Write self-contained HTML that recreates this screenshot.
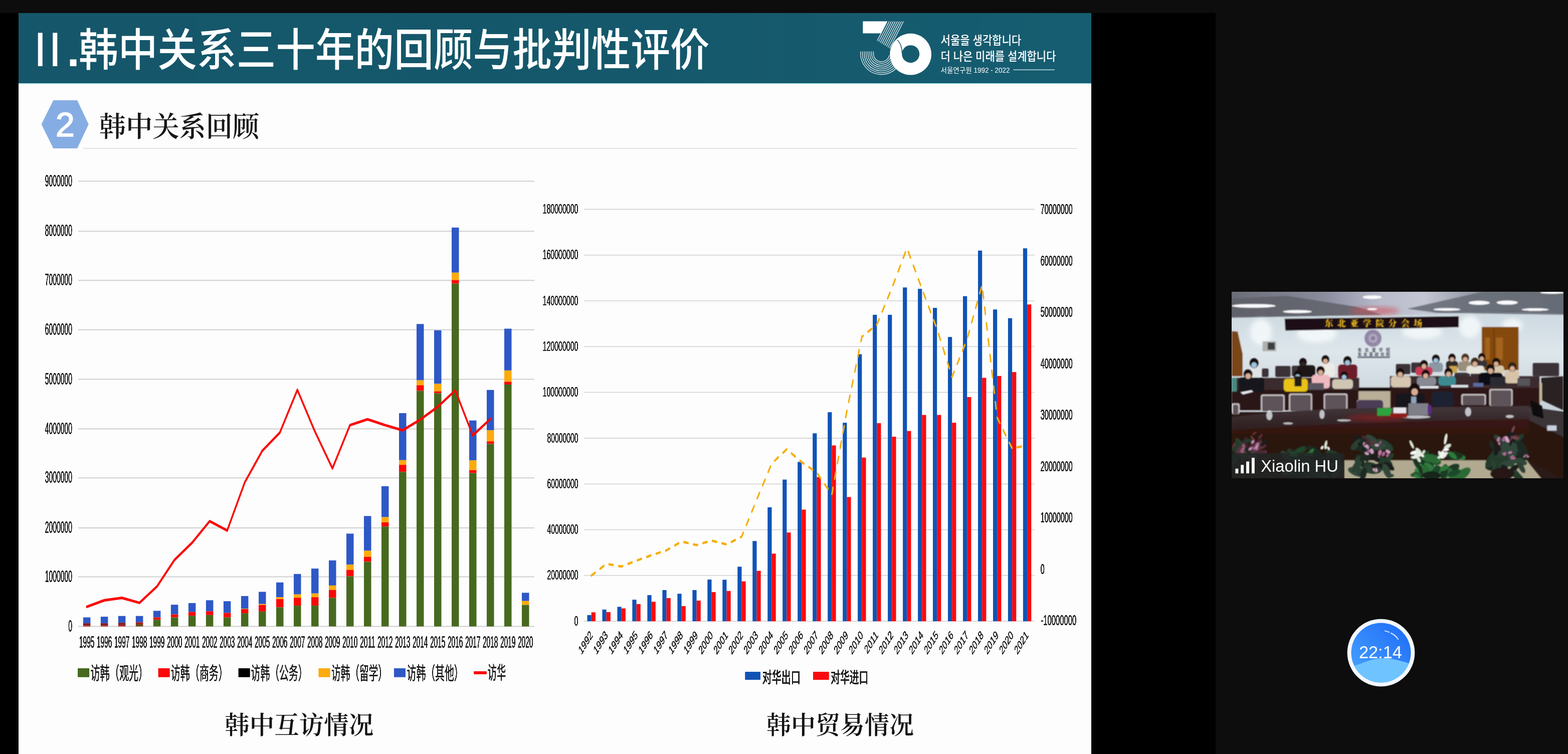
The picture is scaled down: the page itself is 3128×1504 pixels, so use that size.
<!DOCTYPE html>
<html lang="zh-CN">
<head>
<meta charset="utf-8">
<title>韩中关系三十年的回顾与批判性评价</title>
<style>
html,body{margin:0;padding:0;}
body{width:3128px;height:1504px;overflow:hidden;background:#0d0d0d;position:relative;font-family:"Liberation Sans","Noto Sans CJK SC",sans-serif;}
#topbar{position:absolute;left:0;top:0;width:3128px;height:26px;background:#0d0d0d;}
#stage{position:absolute;left:0;top:26px;width:2425px;height:1478px;background:#000;}
#slide{position:absolute;left:36.5px;top:0;width:2140px;height:1478px;background:#fdfdfd;overflow:hidden;}
#slide-header{position:absolute;left:0;top:0;width:2140px;height:140px;background:linear-gradient(90deg,#15566a 0%,#15586b 60%,#165d71 100%);border-bottom:1px solid #8fe3ee;box-sizing:content-box;}
#slide-header h1{position:absolute;left:0;top:0;margin:0;width:1500px;height:140px;white-space:nowrap;font-weight:500;color:#fff;}
#slide-header h1 span{position:absolute;top:0;line-height:140px;transform-origin:0 50%;}
#slide-header h1 .rn{left:30.6px;top:3px;font-family:"Liberation Sans",sans-serif;font-weight:400;font-size:95.7px;letter-spacing:2.9px;}
#slide-header h1 .dot{left:97px;top:4.5px;font-family:"Liberation Sans",sans-serif;font-weight:700;font-size:91px;}
#slide-header h1 .cj{left:120px;top:-3.5px;font-family:"Noto Sans CJK SC",sans-serif;font-weight:500;font-size:88.8px;transform:scaleX(0.8858);}
#logo{position:absolute;left:1663.5px;top:0;}
#sec{position:absolute;left:0;top:166px;width:2140px;height:140px;}
#hex{position:absolute;left:46px;top:8px;}
#sec h2{position:absolute;left:161.5px;top:25.6px;margin:0;white-space:nowrap;font-family:"Liberation Serif","Noto Serif CJK SC",serif;font-weight:600;font-size:56px;line-height:70px;color:#161616;transform-origin:0 50%;transform:scaleX(0.95);}
#rule{position:absolute;left:129.5px;top:269px;width:1983px;height:2px;background:#e2e2e2;}
#charts{position:absolute;left:0;top:0;}
#side{position:absolute;left:2425px;top:26px;width:703px;height:1478px;background:#0d0d0d;}
#video{position:absolute;left:2456.5px;top:581.5px;}
#timer{position:absolute;left:2685.4px;top:1231.7px;}
</style>
</head>
<body>
<div id="topbar"></div>
<div id="stage">
  <div id="slide">
    <div id="slide-header">
      <h1><span class="rn">II</span><span class="dot">.</span><span class="cj">韩中关系三十年的回顾与批判性评价</span></h1>
      <svg id="logo" width="460" height="140" viewBox="1700 26 460 140">
<g fill="none" stroke="#eef7f9" stroke-width="1.25">
<path d="M1742.5 102.4 L1742.5 107 A15.9 15.9 0 0 0 1774 110.3"/>
<path d="M1738.8 102.4 L1738.8 107 A19.6 19.6 0 0 0 1777.5 111.1"/>
<path d="M1735.2 102.4 L1735.2 107 A23.2 23.2 0 0 0 1781.1 111.8"/>
<path d="M1731.5 102.4 L1731.5 107 A26.9 26.9 0 0 0 1784.7 112.6"/>
<path d="M1727.8 102.4 L1727.8 107 A30.6 30.6 0 0 0 1788.3 113.4"/>
<path d="M1724.2 102.4 L1724.2 107 A34.2 34.2 0 0 0 1791.9 114.1"/>
<path d="M1720.5 102.4 L1720.5 107 A37.9 37.9 0 0 0 1795.5 114.9"/>
<path d="M1716.8 102.4 L1716.8 107 A41.6 41.6 0 0 0 1799.1 115.6"/>
<path d="M1769.8 42.6 L1749.9 81.4"/>
<path d="M1773.9 42.6 L1753 83.3"/>
<path d="M1777.9 42.6 L1756.1 85.2"/>
<path d="M1782 42.6 L1759.1 87.1"/>
<path d="M1786 42.6 L1762.2 89"/>
<path d="M1790.1 42.6 L1765.3 90.9"/>
<path d="M1794.2 42.6 L1768.4 92.8"/>
<path d="M1798.2 42.6 L1771.5 94.7"/>
<path d="M1802.3 42.6 L1774.6 96.6"/>
</g>
<polygon points="1721.3,42.6 1769.6,42.6 1757.2,66.6 1721.3,66.6" fill="#fff"/>
<path fill="#fff" fill-rule="evenodd" d="M1816.6 66.8 a41.4 41.4 0 1 0 0.01 0 Z M1816.7 90.2 a17.5 17.5 0 1 1 -0.01 0 Z"/>
<path d="M1790 79.5 Q1799.5 89 1799.6 106" fill="none" stroke="#165b6f" stroke-width="1.5"/>
<g fill="#fff" font-weight="500" font-family="'Liberation Sans', 'Noto Sans CJK KR', sans-serif">
<text x="1876.5" y="89" font-size="24" textLength="161" lengthAdjust="spacingAndGlyphs">서울을 생각합니다</text>
<text x="1876.5" y="121" font-size="24" textLength="230" lengthAdjust="spacingAndGlyphs">더 나은 미래를 설계합니다</text>
<text x="1876.5" y="144.6" font-size="14" font-weight="400" textLength="138" lengthAdjust="spacingAndGlyphs">서울연구원 1992 - 2022</text>
</g>
<rect x="2021.5" y="138.6" width="82.5" height="1.3" fill="#d8f3f8"/>
</svg>
    </div>
    <div id="sec">
      <svg id="hex" width="96" height="98" viewBox="82 199 96 98">
        <polygon points="81.6,246.9 105.4,199.1 153.1,199.1 175.8,246.9 153.1,294.9 105.4,294.9" fill="#86ade3"/>
        <text transform="translate(129 271.2) scale(1 1)" x="0" y="0" font-family="'Liberation Sans', sans-serif" font-size="68" fill="#fff" stroke="#fff" stroke-width="1.7" text-anchor="middle">2</text>
      </svg>
      <h2>韩中关系回顾</h2>
    </div>
    <div id="rule"></div>
  </div>
</div>
<div id="side"></div>
<svg id="charts" width="3128" height="1504" viewBox="0 0 3128 1504">
<defs><filter id="fb" x="-2%" y="-20%" width="104%" height="140%" color-interpolation-filters="sRGB"><feGaussianBlur stdDeviation="0.75 0.3"/><feComponentTransfer><feFuncA type="linear" slope="1.9" intercept="0"/></feComponentTransfer></filter></defs>
<g id="chart-visits">
<g stroke="#cfcfcf" stroke-width="2">
<line x1="156" y1="1249.4" x2="1066" y2="1249.4"/>
<line x1="156" y1="1150.5" x2="1066" y2="1150.5"/>
<line x1="156" y1="1053" x2="1066" y2="1053"/>
<line x1="156" y1="953.2" x2="1066" y2="953.2"/>
<line x1="156" y1="855.4" x2="1066" y2="855.4"/>
<line x1="156" y1="756.6" x2="1066" y2="756.6"/>
<line x1="156" y1="657.8" x2="1066" y2="657.8"/>
<line x1="156" y1="559.2" x2="1066" y2="559.2"/>
<line x1="156" y1="461.2" x2="1066" y2="461.2"/>
<line x1="156" y1="361.4" x2="1066" y2="361.4"/>
</g>
<g font-family="'Liberation Sans', sans-serif" font-size="32.8" font-weight="400" fill="#1a1a1a" text-anchor="end" filter="url(#fb)">
<text x="144" y="1259.6" textLength="7.8" lengthAdjust="spacingAndGlyphs">0</text>
<text x="144" y="1160.7" textLength="54.3" lengthAdjust="spacingAndGlyphs">1000000</text>
<text x="144" y="1063.2" textLength="54.3" lengthAdjust="spacingAndGlyphs">2000000</text>
<text x="144" y="963.4" textLength="54.3" lengthAdjust="spacingAndGlyphs">3000000</text>
<text x="144" y="865.6" textLength="54.3" lengthAdjust="spacingAndGlyphs">4000000</text>
<text x="144" y="766.8" textLength="54.3" lengthAdjust="spacingAndGlyphs">5000000</text>
<text x="144" y="668" textLength="54.3" lengthAdjust="spacingAndGlyphs">6000000</text>
<text x="144" y="569.4" textLength="54.3" lengthAdjust="spacingAndGlyphs">7000000</text>
<text x="144" y="471.4" textLength="54.3" lengthAdjust="spacingAndGlyphs">8000000</text>
<text x="144" y="371.6" textLength="54.3" lengthAdjust="spacingAndGlyphs">9000000</text>
</g>
<rect x="165.9" y="1231.5" width="14.5" height="11.7" fill="#2d58c6"/>
<rect x="165.9" y="1243.2" width="14.5" height="4.5" fill="#7d1a22"/>
<rect x="165.9" y="1247.7" width="14.5" height="1.8" fill="#b3241c"/>
<rect x="200.9" y="1230.1" width="14.5" height="13.1" fill="#2d58c6"/>
<rect x="200.9" y="1243.2" width="14.5" height="4.5" fill="#7d1a22"/>
<rect x="200.9" y="1247.7" width="14.5" height="1.8" fill="#b3241c"/>
<rect x="235.9" y="1228.7" width="14.5" height="13.6" fill="#2d58c6"/>
<rect x="235.9" y="1242.3" width="14.5" height="4.5" fill="#7d1a22"/>
<rect x="235.9" y="1246.8" width="14.5" height="2.7" fill="#b3241c"/>
<rect x="270.9" y="1228.7" width="14.5" height="12.6" fill="#2d58c6"/>
<rect x="270.9" y="1241.3" width="14.5" height="3.7" fill="#a8201c"/>
<rect x="270.9" y="1245" width="14.5" height="4.5" fill="#6b4a1c"/>
<rect x="305.9" y="1218.4" width="14.5" height="13.1" fill="#2d58c6"/>
<rect x="305.9" y="1231.5" width="14.5" height="4.7" fill="#fa0808"/>
<rect x="305.9" y="1236.2" width="14.5" height="13.3" fill="#47691f"/>
<rect x="340.9" y="1206.2" width="14.5" height="19.2" fill="#2d58c6"/>
<rect x="340.9" y="1225.4" width="14.5" height="6.1" fill="#fa0808"/>
<rect x="340.9" y="1231.5" width="14.5" height="18" fill="#47691f"/>
<rect x="375.9" y="1202.9" width="14.5" height="17.8" fill="#2d58c6"/>
<rect x="375.9" y="1220.7" width="14.5" height="7.5" fill="#fa0808"/>
<rect x="375.9" y="1228.2" width="14.5" height="21.3" fill="#47691f"/>
<rect x="410.9" y="1197.3" width="14.5" height="22" fill="#2d58c6"/>
<rect x="410.9" y="1219.3" width="14.5" height="7.5" fill="#fa0808"/>
<rect x="410.9" y="1226.8" width="14.5" height="22.7" fill="#47691f"/>
<rect x="445.9" y="1199.2" width="14.5" height="23.4" fill="#2d58c6"/>
<rect x="445.9" y="1222.6" width="14.5" height="8.9" fill="#fa0808"/>
<rect x="445.9" y="1231.5" width="14.5" height="18" fill="#47691f"/>
<rect x="480.9" y="1188.9" width="14.5" height="25.3" fill="#2d58c6"/>
<rect x="480.9" y="1214.2" width="14.5" height="0.9" fill="#fcab0c"/>
<rect x="480.9" y="1215.1" width="14.5" height="8" fill="#fa0808"/>
<rect x="480.9" y="1223.1" width="14.5" height="26.4" fill="#47691f"/>
<rect x="516" y="1180.5" width="14.5" height="24.3" fill="#2d58c6"/>
<rect x="516" y="1204.8" width="14.5" height="1.9" fill="#fcab0c"/>
<rect x="516" y="1206.7" width="14.5" height="13.1" fill="#fa0808"/>
<rect x="516" y="1219.8" width="14.5" height="29.7" fill="#47691f"/>
<rect x="551" y="1161.8" width="14.5" height="29.5" fill="#2d58c6"/>
<rect x="551" y="1191.2" width="14.5" height="3.7" fill="#fcab0c"/>
<rect x="551" y="1195" width="14.5" height="16.4" fill="#fa0808"/>
<rect x="551" y="1211.4" width="14.5" height="38.1" fill="#47691f"/>
<rect x="586" y="1144.9" width="14.5" height="40.7" fill="#2d58c6"/>
<rect x="586" y="1185.6" width="14.5" height="6.6" fill="#fcab0c"/>
<rect x="586" y="1192.2" width="14.5" height="15.9" fill="#fa0808"/>
<rect x="586" y="1208.1" width="14.5" height="41.4" fill="#47691f"/>
<rect x="621" y="1134.1" width="14.5" height="49.6" fill="#2d58c6"/>
<rect x="621" y="1183.8" width="14.5" height="7.5" fill="#fcab0c"/>
<rect x="621" y="1191.2" width="14.5" height="16.9" fill="#fa0808"/>
<rect x="621" y="1208.1" width="14.5" height="41.4" fill="#47691f"/>
<rect x="656" y="1117.8" width="14.5" height="50.1" fill="#2d58c6"/>
<rect x="656" y="1167.8" width="14.5" height="8.9" fill="#fcab0c"/>
<rect x="656" y="1176.7" width="14.5" height="15.9" fill="#fa0808"/>
<rect x="656" y="1192.6" width="14.5" height="56.9" fill="#47691f"/>
<rect x="691" y="1064.4" width="14.5" height="61.8" fill="#2d58c6"/>
<rect x="691" y="1126.2" width="14.5" height="10.8" fill="#fcab0c"/>
<rect x="691" y="1136.9" width="14.5" height="12.6" fill="#fa0808"/>
<rect x="691" y="1149.6" width="14.5" height="99.9" fill="#47691f"/>
<rect x="726" y="1029.3" width="14.5" height="69.3" fill="#2d58c6"/>
<rect x="726" y="1098.6" width="14.5" height="12.2" fill="#fcab0c"/>
<rect x="726" y="1110.7" width="14.5" height="9.8" fill="#fa0808"/>
<rect x="726" y="1120.6" width="14.5" height="128.9" fill="#47691f"/>
<rect x="761" y="969.8" width="14.5" height="61.8" fill="#2d58c6"/>
<rect x="761" y="1031.6" width="14.5" height="10.3" fill="#fcab0c"/>
<rect x="761" y="1041.9" width="14.5" height="8.4" fill="#fa0808"/>
<rect x="761" y="1050.3" width="14.5" height="199.2" fill="#47691f"/>
<rect x="796" y="824.1" width="14.5" height="93.7" fill="#2d58c6"/>
<rect x="796" y="917.9" width="14.5" height="9.4" fill="#fcab0c"/>
<rect x="796" y="927.2" width="14.5" height="14" fill="#fa0808"/>
<rect x="796" y="941.3" width="14.5" height="308.2" fill="#47691f"/>
<rect x="831" y="646.3" width="14.5" height="112.3" fill="#2d58c6"/>
<rect x="831" y="758.6" width="14.5" height="9.8" fill="#fcab0c"/>
<rect x="831" y="768.4" width="14.5" height="11.2" fill="#fa0808"/>
<rect x="831" y="779.7" width="14.5" height="469.8" fill="#47691f"/>
<rect x="866" y="658.9" width="14.5" height="106.7" fill="#2d58c6"/>
<rect x="866" y="765.6" width="14.5" height="15" fill="#fcab0c"/>
<rect x="866" y="780.6" width="14.5" height="3.7" fill="#fa0808"/>
<rect x="866" y="784.4" width="14.5" height="465.1" fill="#47691f"/>
<rect x="901" y="453.9" width="14.5" height="89.9" fill="#2d58c6"/>
<rect x="901" y="543.8" width="14.5" height="15" fill="#fcab0c"/>
<rect x="901" y="558.7" width="14.5" height="7" fill="#fa0808"/>
<rect x="901" y="565.8" width="14.5" height="683.7" fill="#47691f"/>
<rect x="936" y="838.7" width="14.5" height="79.7" fill="#2d58c6"/>
<rect x="936" y="918.3" width="14.5" height="19.7" fill="#fcab0c"/>
<rect x="936" y="938" width="14.5" height="5.6" fill="#fa0808"/>
<rect x="936" y="943.6" width="14.5" height="305.9" fill="#47691f"/>
<rect x="971" y="777.8" width="14.5" height="80.5" fill="#2d58c6"/>
<rect x="971" y="858.3" width="14.5" height="22" fill="#fcab0c"/>
<rect x="971" y="880.3" width="14.5" height="5.1" fill="#fa0808"/>
<rect x="971" y="885.5" width="14.5" height="364" fill="#47691f"/>
<rect x="1006" y="655.6" width="14.5" height="83.3" fill="#2d58c6"/>
<rect x="1006" y="738.9" width="14.5" height="22.5" fill="#fcab0c"/>
<rect x="1006" y="761.4" width="14.5" height="5.6" fill="#fa0808"/>
<rect x="1006" y="767" width="14.5" height="482.5" fill="#47691f"/>
<rect x="1041" y="1182.4" width="14.5" height="16.4" fill="#2d58c6"/>
<rect x="1041" y="1198.7" width="14.5" height="8" fill="#fcab0c"/>
<rect x="1041" y="1206.7" width="14.5" height="42.8" fill="#47691f"/>
<polyline transform="scale(0.6 1)" points="288.7,1210.4 347,1197.3 405.3,1192.6 463.7,1202.5 522,1169.7 580.3,1116.8 638.7,1082.6 697,1039.6 755.3,1058.3 813.7,962.3 872,899.2 930.3,863 988.7,777.8 1047,860.7 1105.3,934.3 1163.7,848 1222,836.3 1280.3,848 1338.7,858.3 1397,837.2 1455.3,811.5 1513.7,778.7 1572,868.6 1630.3,835.8" fill="none" stroke="#fb0606" stroke-width="5.3" stroke-linejoin="round" stroke-linecap="round"/>
<g font-family="'Liberation Sans', sans-serif" font-size="32.4" font-weight="400" fill="#1a1a1a" text-anchor="middle" filter="url(#fb)">
<text x="173.2" y="1292.2" textLength="30.6" lengthAdjust="spacingAndGlyphs">1995</text>
<text x="208.2" y="1292.2" textLength="30.6" lengthAdjust="spacingAndGlyphs">1996</text>
<text x="243.2" y="1292.2" textLength="30.6" lengthAdjust="spacingAndGlyphs">1997</text>
<text x="278.2" y="1292.2" textLength="30.6" lengthAdjust="spacingAndGlyphs">1998</text>
<text x="313.2" y="1292.2" textLength="30.6" lengthAdjust="spacingAndGlyphs">1999</text>
<text x="348.2" y="1292.2" textLength="30.6" lengthAdjust="spacingAndGlyphs">2000</text>
<text x="383.2" y="1292.2" textLength="30.6" lengthAdjust="spacingAndGlyphs">2001</text>
<text x="418.2" y="1292.2" textLength="30.6" lengthAdjust="spacingAndGlyphs">2002</text>
<text x="453.2" y="1292.2" textLength="30.6" lengthAdjust="spacingAndGlyphs">2003</text>
<text x="488.2" y="1292.2" textLength="30.6" lengthAdjust="spacingAndGlyphs">2004</text>
<text x="523.2" y="1292.2" textLength="30.6" lengthAdjust="spacingAndGlyphs">2005</text>
<text x="558.2" y="1292.2" textLength="30.6" lengthAdjust="spacingAndGlyphs">2006</text>
<text x="593.2" y="1292.2" textLength="30.6" lengthAdjust="spacingAndGlyphs">2007</text>
<text x="628.2" y="1292.2" textLength="30.6" lengthAdjust="spacingAndGlyphs">2008</text>
<text x="663.2" y="1292.2" textLength="30.6" lengthAdjust="spacingAndGlyphs">2009</text>
<text x="698.2" y="1292.2" textLength="30.6" lengthAdjust="spacingAndGlyphs">2010</text>
<text x="733.2" y="1292.2" textLength="30.6" lengthAdjust="spacingAndGlyphs">2011</text>
<text x="768.2" y="1292.2" textLength="30.6" lengthAdjust="spacingAndGlyphs">2012</text>
<text x="803.2" y="1292.2" textLength="30.6" lengthAdjust="spacingAndGlyphs">2013</text>
<text x="838.2" y="1292.2" textLength="30.6" lengthAdjust="spacingAndGlyphs">2014</text>
<text x="873.2" y="1292.2" textLength="30.6" lengthAdjust="spacingAndGlyphs">2015</text>
<text x="908.2" y="1292.2" textLength="30.6" lengthAdjust="spacingAndGlyphs">2016</text>
<text x="943.2" y="1292.2" textLength="30.6" lengthAdjust="spacingAndGlyphs">2017</text>
<text x="978.2" y="1292.2" textLength="30.6" lengthAdjust="spacingAndGlyphs">2018</text>
<text x="1013.2" y="1292.2" textLength="30.6" lengthAdjust="spacingAndGlyphs">2019</text>
<text x="1048.2" y="1292.2" textLength="30.6" lengthAdjust="spacingAndGlyphs">2020</text>
</g>
<g font-family="'Liberation Sans', 'Noto Sans CJK SC', sans-serif" font-size="36" font-weight="400" fill="#1a1a1a" filter="url(#fb)">
<rect x="155.5" y="1333" width="22.6" height="17.4" fill="#47691f"/>
<text x="180.4" y="1356" textLength="115" lengthAdjust="spacingAndGlyphs">访韩（观光）</text>
<rect x="315.8" y="1333" width="22.6" height="17.4" fill="#fa0808"/>
<text x="340.7" y="1356" textLength="114" lengthAdjust="spacingAndGlyphs">访韩（商务）</text>
<rect x="475.8" y="1333" width="22.6" height="17.4" fill="#000"/>
<text x="500.6" y="1356" textLength="113" lengthAdjust="spacingAndGlyphs">访韩（公务）</text>
<rect x="635.7" y="1333" width="22.6" height="17.4" fill="#fcab0c"/>
<text x="661" y="1356" textLength="112" lengthAdjust="spacingAndGlyphs">访韩（留学）</text>
<rect x="786.3" y="1333" width="22.6" height="17.4" fill="#2d58c6"/>
<text x="811.6" y="1356" textLength="113" lengthAdjust="spacingAndGlyphs">访韩（其他）</text>
<rect x="945.5" y="1339.4" width="25" height="5.3" fill="#fb0606"/>
<text x="972.7" y="1355" textLength="36.5" lengthAdjust="spacingAndGlyphs">访华</text>
</g>
<text x="596.7" y="1464" font-family="'Liberation Serif', 'Noto Serif CJK SC', serif" font-size="50" font-weight="600" fill="#111" text-anchor="middle" textLength="297" lengthAdjust="spacingAndGlyphs">韩中互访情况</text>
</g>
<g id="chart-trade">
<g stroke="#d6d6d6" stroke-width="1.8">
<line x1="1165" y1="1239.2" x2="2064" y2="1239.2"/>
<line x1="1165" y1="1147.9" x2="2064" y2="1147.9"/>
<line x1="1165" y1="1056.6" x2="2064" y2="1056.6"/>
<line x1="1165" y1="965.3" x2="2064" y2="965.3"/>
<line x1="1165" y1="874" x2="2064" y2="874"/>
<line x1="1165" y1="782.7" x2="2064" y2="782.7"/>
<line x1="1165" y1="691.4" x2="2064" y2="691.4"/>
<line x1="1165" y1="600.1" x2="2064" y2="600.1"/>
<line x1="1165" y1="508.8" x2="2064" y2="508.8"/>
<line x1="1165" y1="417.5" x2="2064" y2="417.5"/>
</g>
<g font-family="'Liberation Sans', sans-serif" font-size="28.4" font-weight="400" fill="#1a1a1a" text-anchor="end" filter="url(#fb)">
<text x="1153.5" y="1247.7" textLength="8" lengthAdjust="spacingAndGlyphs">0</text>
<text x="1153.5" y="1156.4" textLength="62" lengthAdjust="spacingAndGlyphs">20000000</text>
<text x="1153.5" y="1065.1" textLength="62" lengthAdjust="spacingAndGlyphs">40000000</text>
<text x="1153.5" y="973.8" textLength="62" lengthAdjust="spacingAndGlyphs">60000000</text>
<text x="1153.5" y="882.5" textLength="62" lengthAdjust="spacingAndGlyphs">80000000</text>
<text x="1153.5" y="791.2" textLength="71" lengthAdjust="spacingAndGlyphs">100000000</text>
<text x="1153.5" y="699.9" textLength="71" lengthAdjust="spacingAndGlyphs">120000000</text>
<text x="1153.5" y="608.6" textLength="71" lengthAdjust="spacingAndGlyphs">140000000</text>
<text x="1153.5" y="517.3" textLength="71" lengthAdjust="spacingAndGlyphs">160000000</text>
<text x="1153.5" y="426" textLength="71" lengthAdjust="spacingAndGlyphs">180000000</text>
</g>
<g font-family="'Liberation Sans', sans-serif" font-size="29.6" font-weight="400" fill="#1a1a1a" filter="url(#fb)">
<text x="2076.2" y="1247.3" textLength="71" lengthAdjust="spacingAndGlyphs">-10000000</text>
<text x="2075.7" y="1144.8" textLength="8" lengthAdjust="spacingAndGlyphs">0</text>
<text x="2075.7" y="1042.2" textLength="64" lengthAdjust="spacingAndGlyphs">10000000</text>
<text x="2075.7" y="939.7" textLength="64" lengthAdjust="spacingAndGlyphs">20000000</text>
<text x="2075.7" y="837.1" textLength="64" lengthAdjust="spacingAndGlyphs">30000000</text>
<text x="2075.7" y="734.6" textLength="64" lengthAdjust="spacingAndGlyphs">40000000</text>
<text x="2075.7" y="632" textLength="64" lengthAdjust="spacingAndGlyphs">50000000</text>
<text x="2075.7" y="529.5" textLength="64" lengthAdjust="spacingAndGlyphs">60000000</text>
<text x="2075.7" y="426.9" textLength="64" lengthAdjust="spacingAndGlyphs">70000000</text>
</g>
<rect x="1171.5" y="1226.9" width="8.2" height="12.3" fill="#1053b6"/>
<rect x="1179.7" y="1221.4" width="8.2" height="17.8" fill="#f90b0f"/>
<rect x="1201.5" y="1215.9" width="8.2" height="23.3" fill="#1053b6"/>
<rect x="1209.7" y="1220.9" width="8.2" height="18.3" fill="#f90b0f"/>
<rect x="1231.5" y="1210.4" width="8.2" height="28.8" fill="#1053b6"/>
<rect x="1239.7" y="1213.6" width="8.2" height="25.6" fill="#f90b0f"/>
<rect x="1261.4" y="1196.2" width="8.2" height="43" fill="#1053b6"/>
<rect x="1269.6" y="1204.9" width="8.2" height="34.3" fill="#f90b0f"/>
<rect x="1291.4" y="1187.1" width="8.2" height="52.1" fill="#1053b6"/>
<rect x="1299.6" y="1200.3" width="8.2" height="38.9" fill="#f90b0f"/>
<rect x="1321.4" y="1177" width="8.2" height="62.2" fill="#1053b6"/>
<rect x="1329.6" y="1193" width="8.2" height="46.2" fill="#f90b0f"/>
<rect x="1351.4" y="1184.3" width="8.2" height="54.9" fill="#1053b6"/>
<rect x="1359.6" y="1209" width="8.2" height="30.2" fill="#f90b0f"/>
<rect x="1381.4" y="1177" width="8.2" height="62.2" fill="#1053b6"/>
<rect x="1389.6" y="1198" width="8.2" height="41.2" fill="#f90b0f"/>
<rect x="1411.3" y="1156" width="8.2" height="83.2" fill="#1053b6"/>
<rect x="1419.5" y="1181.1" width="8.2" height="58.1" fill="#f90b0f"/>
<rect x="1441.3" y="1156.4" width="8.2" height="82.8" fill="#1053b6"/>
<rect x="1449.5" y="1178.8" width="8.2" height="60.4" fill="#f90b0f"/>
<rect x="1471.3" y="1130.4" width="8.2" height="108.8" fill="#1053b6"/>
<rect x="1479.5" y="1159.6" width="8.2" height="79.6" fill="#f90b0f"/>
<rect x="1501.3" y="1079.2" width="8.2" height="160" fill="#1053b6"/>
<rect x="1509.5" y="1138.6" width="8.2" height="100.6" fill="#f90b0f"/>
<rect x="1531.3" y="1011.9" width="8.2" height="227.3" fill="#1053b6"/>
<rect x="1539.5" y="1104.3" width="8.2" height="134.9" fill="#f90b0f"/>
<rect x="1561.2" y="956.6" width="8.2" height="282.6" fill="#1053b6"/>
<rect x="1569.4" y="1062.2" width="8.2" height="177" fill="#f90b0f"/>
<rect x="1591.2" y="921.4" width="8.2" height="317.8" fill="#1053b6"/>
<rect x="1599.4" y="1016.5" width="8.2" height="222.7" fill="#f90b0f"/>
<rect x="1621.2" y="864.3" width="8.2" height="374.9" fill="#1053b6"/>
<rect x="1629.4" y="951.6" width="8.2" height="287.6" fill="#f90b0f"/>
<rect x="1651.2" y="822.2" width="8.2" height="417" fill="#1053b6"/>
<rect x="1659.4" y="888.5" width="8.2" height="350.7" fill="#f90b0f"/>
<rect x="1681.2" y="843.2" width="8.2" height="396" fill="#1053b6"/>
<rect x="1689.4" y="991.4" width="8.2" height="247.8" fill="#f90b0f"/>
<rect x="1711.1" y="706.5" width="8.2" height="532.7" fill="#1053b6"/>
<rect x="1719.3" y="912.7" width="8.2" height="326.5" fill="#f90b0f"/>
<rect x="1741.1" y="627.9" width="8.2" height="611.3" fill="#1053b6"/>
<rect x="1749.3" y="844.1" width="8.2" height="395.1" fill="#f90b0f"/>
<rect x="1771.1" y="627.9" width="8.2" height="611.3" fill="#1053b6"/>
<rect x="1779.3" y="871.1" width="8.2" height="368.1" fill="#f90b0f"/>
<rect x="1801.1" y="573.4" width="8.2" height="665.8" fill="#1053b6"/>
<rect x="1809.3" y="859.7" width="8.2" height="379.5" fill="#f90b0f"/>
<rect x="1831.1" y="576.2" width="8.2" height="663" fill="#1053b6"/>
<rect x="1839.3" y="827.7" width="8.2" height="411.5" fill="#f90b0f"/>
<rect x="1861" y="614.1" width="8.2" height="625.1" fill="#1053b6"/>
<rect x="1869.2" y="827.7" width="8.2" height="411.5" fill="#f90b0f"/>
<rect x="1891" y="672.2" width="8.2" height="567" fill="#1053b6"/>
<rect x="1899.2" y="843.2" width="8.2" height="396" fill="#f90b0f"/>
<rect x="1921" y="590.8" width="8.2" height="648.4" fill="#1053b6"/>
<rect x="1929.2" y="792" width="8.2" height="447.2" fill="#f90b0f"/>
<rect x="1951" y="499.8" width="8.2" height="739.4" fill="#1053b6"/>
<rect x="1959.2" y="753.6" width="8.2" height="485.6" fill="#f90b0f"/>
<rect x="1981" y="617.3" width="8.2" height="621.9" fill="#1053b6"/>
<rect x="1989.2" y="749.9" width="8.2" height="489.3" fill="#f90b0f"/>
<rect x="2010.9" y="634.7" width="8.2" height="604.5" fill="#1053b6"/>
<rect x="2019.1" y="742.2" width="8.2" height="497" fill="#f90b0f"/>
<rect x="2040.9" y="495.3" width="8.2" height="743.9" fill="#1053b6"/>
<rect x="2049.1" y="607.3" width="8.2" height="631.9" fill="#f90b0f"/>
<polyline transform="scale(0.6 1)" points="1966.2,1148 2016.1,1124.8 2066.1,1130 2116.1,1118.3 2166,1107.5 2216,1097.7 2266,1080.1 2315.9,1087.3 2365.9,1078.3 2415.9,1086 2465.8,1070.5 2515.8,996.9 2565.8,924.6 2615.7,896.2 2665.7,922 2715.7,942.7 2765.6,986.6 2815.6,820 2865.6,671.8 2915.5,647.3 2965.5,574.4 3015.5,494.9 3065.4,576.5 3115.4,656.3 3165.4,752 3215.3,676.5 3265.3,568.5 3315.3,833 3365.2,894.5 3405.2,889.5" fill="none" stroke="#f6ae0a" stroke-width="4.8" stroke-dasharray="13.5 18.5" stroke-linejoin="round" stroke-linecap="round"/>
<g font-family="'Liberation Sans', sans-serif" font-size="24.3" font-weight="400" fill="#1a1a1a" text-anchor="end" filter="url(#fb)">
<text transform="translate(1176.3 1257) scale(0.61 1) rotate(-45)" x="0" y="16.2">1992</text>
<text transform="translate(1206.3 1257) scale(0.61 1) rotate(-45)" x="0" y="16.2">1993</text>
<text transform="translate(1236.3 1257) scale(0.61 1) rotate(-45)" x="0" y="16.2">1994</text>
<text transform="translate(1266.2 1257) scale(0.61 1) rotate(-45)" x="0" y="16.2">1995</text>
<text transform="translate(1296.2 1257) scale(0.61 1) rotate(-45)" x="0" y="16.2">1996</text>
<text transform="translate(1326.2 1257) scale(0.61 1) rotate(-45)" x="0" y="16.2">1997</text>
<text transform="translate(1356.2 1257) scale(0.61 1) rotate(-45)" x="0" y="16.2">1998</text>
<text transform="translate(1386.2 1257) scale(0.61 1) rotate(-45)" x="0" y="16.2">1999</text>
<text transform="translate(1416.1 1257) scale(0.61 1) rotate(-45)" x="0" y="16.2">2000</text>
<text transform="translate(1446.1 1257) scale(0.61 1) rotate(-45)" x="0" y="16.2">2001</text>
<text transform="translate(1476.1 1257) scale(0.61 1) rotate(-45)" x="0" y="16.2">2002</text>
<text transform="translate(1506.1 1257) scale(0.61 1) rotate(-45)" x="0" y="16.2">2003</text>
<text transform="translate(1536.1 1257) scale(0.61 1) rotate(-45)" x="0" y="16.2">2004</text>
<text transform="translate(1566 1257) scale(0.61 1) rotate(-45)" x="0" y="16.2">2005</text>
<text transform="translate(1596 1257) scale(0.61 1) rotate(-45)" x="0" y="16.2">2006</text>
<text transform="translate(1626 1257) scale(0.61 1) rotate(-45)" x="0" y="16.2">2007</text>
<text transform="translate(1656 1257) scale(0.61 1) rotate(-45)" x="0" y="16.2">2008</text>
<text transform="translate(1686 1257) scale(0.61 1) rotate(-45)" x="0" y="16.2">2009</text>
<text transform="translate(1715.9 1257) scale(0.61 1) rotate(-45)" x="0" y="16.2">2010</text>
<text transform="translate(1745.9 1257) scale(0.61 1) rotate(-45)" x="0" y="16.2">2011</text>
<text transform="translate(1775.9 1257) scale(0.61 1) rotate(-45)" x="0" y="16.2">2012</text>
<text transform="translate(1805.9 1257) scale(0.61 1) rotate(-45)" x="0" y="16.2">2013</text>
<text transform="translate(1835.9 1257) scale(0.61 1) rotate(-45)" x="0" y="16.2">2014</text>
<text transform="translate(1865.8 1257) scale(0.61 1) rotate(-45)" x="0" y="16.2">2015</text>
<text transform="translate(1895.8 1257) scale(0.61 1) rotate(-45)" x="0" y="16.2">2016</text>
<text transform="translate(1925.8 1257) scale(0.61 1) rotate(-45)" x="0" y="16.2">2017</text>
<text transform="translate(1955.8 1257) scale(0.61 1) rotate(-45)" x="0" y="16.2">2018</text>
<text transform="translate(1985.8 1257) scale(0.61 1) rotate(-45)" x="0" y="16.2">2019</text>
<text transform="translate(2015.7 1257) scale(0.61 1) rotate(-45)" x="0" y="16.2">2020</text>
<text transform="translate(2045.7 1257) scale(0.61 1) rotate(-45)" x="0" y="16.2">2021</text>
</g>
<g font-family="'Liberation Sans', 'Noto Sans CJK SC', sans-serif" font-size="31" font-weight="500" fill="#1a1a1a" filter="url(#fb)">
<rect x="1486.6" y="1340.3" width="30.3" height="15.6" fill="#1053b6"/>
<text x="1520.8" y="1362" textLength="76" lengthAdjust="spacingAndGlyphs">对华出口</text>
<rect x="1622.2" y="1340.3" width="31.2" height="15.6" fill="#f90b0f"/>
<text x="1657.3" y="1362" textLength="75" lengthAdjust="spacingAndGlyphs">对华进口</text>
</g>
<text x="1676" y="1464" font-family="'Liberation Serif', 'Noto Serif CJK SC', serif" font-size="50" font-weight="600" fill="#111" text-anchor="middle" textLength="294" lengthAdjust="spacingAndGlyphs">韩中贸易情况</text>
</g>
</svg>
<svg id="video" width="662" height="372" viewBox="0 0 662 372">
<defs>
<filter id="vb" x="-5%" y="-5%" width="110%" height="110%"><feGaussianBlur stdDeviation="1.3"/></filter>
<filter id="vb2" x="-20%" y="-20%" width="140%" height="140%"><feGaussianBlur stdDeviation="5"/></filter>
<linearGradient id="ceil" x1="0" y1="0" x2="1" y2="0"><stop offset="0" stop-color="#6a6c76"/><stop offset="0.28" stop-color="#8a8c9d"/><stop offset="0.45" stop-color="#b9bbcb"/><stop offset="0.58" stop-color="#c4c6d3"/><stop offset="0.75" stop-color="#8b909c"/><stop offset="1" stop-color="#70757d"/></linearGradient>
<linearGradient id="wall" x1="0" y1="0" x2="0" y2="1"><stop offset="0" stop-color="#cdd8e0"/><stop offset="0.4" stop-color="#dde6eb"/><stop offset="1" stop-color="#c6d1d8"/></linearGradient>
<linearGradient id="desk" x1="0" y1="0" x2="0" y2="1"><stop offset="0" stop-color="#43363a"/><stop offset="1" stop-color="#2c1d1e"/></linearGradient>
<linearGradient id="front" x1="0" y1="0" x2="0" y2="1"><stop offset="0" stop-color="#3a1a13"/><stop offset="1" stop-color="#26100d"/></linearGradient>
<clipPath id="vc"><rect x="0" y="0" width="662" height="372"/></clipPath>
</defs>
<g clip-path="url(#vc)">
<rect width="662" height="372" fill="#2a1a18"/>
<g filter="url(#vb)">
<rect x="-5" y="40" width="672" height="200" fill="url(#wall)"/>
<polygon points="-5,-5 667,-5 667,44 560,38 360,46 200,48 -5,50" fill="url(#ceil)"/>
<polygon points="-5,14 110,8 250,30 300,46 -5,52" fill="#5f6069" opacity="0.85"/>
<polygon points="667,0 500,0 350,34 410,42 667,46" fill="#646a73" opacity="0.85"/>
<ellipse cx="285" cy="38" rx="50" ry="8" fill="#d0525a" opacity="0.6" filter="url(#vb2)"/>
<ellipse cx="44.1" cy="28.1" rx="44" ry="3.6" fill="#fbfbff"/>
<ellipse cx="131.2" cy="39.6" rx="29" ry="3" fill="#fbfbff"/>
<ellipse cx="280.3" cy="10.8" rx="19" ry="3.6" fill="#fbfbff"/>
<ellipse cx="280.3" cy="34.5" rx="10" ry="2" fill="#fbfbff"/>
<ellipse cx="493.8" cy="22.0" rx="21" ry="4" fill="#fbfbff"/>
<ellipse cx="549.7" cy="21.6" rx="21" ry="4" fill="#fbfbff"/>
<ellipse cx="429.4" cy="35.2" rx="27" ry="2.6" fill="#fbfbff"/>
<ellipse cx="605.6" cy="35.5" rx="27" ry="2.6" fill="#fbfbff"/>
<ellipse cx="639.5" cy="1.6" rx="24" ry="2.4" fill="#fbfbff"/>
<ellipse cx="58.3" cy="80.3" rx="22" ry="26" fill="#f4f9fb" opacity="0.9" filter="url(#vb2)"/>
<ellipse cx="170.1" cy="83.7" rx="40" ry="18" fill="#f4f9fb" opacity="0.9" filter="url(#vb2)"/>
<ellipse cx="475.2" cy="70.1" rx="22" ry="22" fill="#f4f9fb" opacity="0.9" filter="url(#vb2)"/>
<ellipse cx="559.9" cy="67.4" rx="20" ry="14" fill="#f4f9fb" opacity="0.9" filter="url(#vb2)"/>
<ellipse cx="380.3" cy="80.3" rx="40" ry="14" fill="#f4f9fb" opacity="0.9" filter="url(#vb2)"/>
<polygon points="0,78.6 12,79.3 22,124.3 22,168.4 0,168.4" fill="#7b4412"/>
<rect x="498.9" y="70.1" width="73.5" height="86.4" fill="#84490f"/>
<rect x="505.7" y="91.1" width="9.5" height="44.1" fill="#a3641f"/>
<rect x="527.4" y="91.1" width="13.6" height="44.1" fill="#a3641f"/>
<rect x="522.6" y="71.8" width="1.2" height="81.3" fill="#5e3208"/>
<rect x="61.7" y="98.9" width="27.1" height="19.7" fill="#aeb1ae"/>
<rect x="71.9" y="101.3" width="14.2" height="14.2" fill="#3d403f"/>
<polygon points="105.7,53.8 453.1,48.8 453.1,70.8 107.1,77.6" fill="#1d1114"/>
</g>
<text x="185.4" y="69.4" font-family="'Liberation Serif', 'Noto Serif CJK SC', serif" font-weight="900" font-size="17" fill="#f5c21d" textLength="194.9" lengthAdjust="spacing" filter="url(#vb)" style="filter:url(#vb)">东北亚学院分会场</text>
<g filter="url(#vb)">
<circle cx="282.0" cy="92.8" r="17" fill="#9288a6"/>
<circle cx="282.0" cy="92.8" r="9" fill="#b1a9c0"/>
<circle cx="282.0" cy="92.8" r="4.5" fill="#8a7f9f"/>
</g>
<text x="283.7" y="119.2" font-family="'Liberation Sans', 'Noto Sans CJK SC', sans-serif" font-weight="700" font-size="7.5" fill="#3c3c48" text-anchor="middle" textLength="64" lengthAdjust="spacing" style="filter:url(#vb)">东北亚学院</text>
<text x="283.7" y="127.7" font-family="'Liberation Sans', 'Noto Sans CJK SC', sans-serif" font-weight="700" font-size="7.5" fill="#3c3c48" text-anchor="middle" textLength="64" lengthAdjust="spacing" style="filter:url(#vb)">东北亚研究院</text>
<g filter="url(#vb)">
<rect x="251.5" y="129.4" width="64" height="2.4" fill="#55556a"/>
<rect x="87.1" y="148.1" width="30.5" height="22.0" rx="3" fill="#3b3239"/>
<rect x="120.0" y="147.4" width="19.7" height="21.0" rx="3" fill="#3b3239"/>
<rect x="60.0" y="153.1" width="13.6" height="16.9" rx="3" fill="#3b3239"/>
<rect x="327.7" y="144.0" width="28.8" height="20.3" rx="3" fill="#3b3239"/>
<rect x="358.2" y="141.3" width="20.3" height="20.3" rx="3" fill="#3b3239"/>
<rect x="444.7" y="161.6" width="30.5" height="22.0" rx="3" fill="#3b3239"/>
<rect x="476.9" y="161.6" width="28.8" height="20.3" rx="3" fill="#3b3239"/>
<rect x="600.6" y="142.0" width="52.5" height="26.4" rx="3" fill="#3b3239"/>
<polygon points="617.5,171.8 661.6,168.4 661.6,236.2 617.5,215.8" fill="#2a2024"/>
<rect x="609.0" y="181.9" width="10.2" height="37.3" fill="#c3b89c"/>
<rect x="0.0" y="171.8" width="254.2" height="27.1" fill="#3a2a2e"/>
<rect x="0.0" y="195.5" width="254.2" height="40.7" fill="#2b1714"/>
<rect x="315.9" y="168.4" width="298.2" height="25.4" fill="#3a2a2e"/>
<rect x="315.9" y="192.1" width="298.2" height="40.7" fill="#2d1512"/>
<rect x="253.2" y="198.2" width="63.4" height="33.9" fill="#b9ae96"/>
<rect x="253.2" y="191.4" width="63.4" height="6.8" fill="#16100f"/>
<rect x="31.2" y="149.8" width="28.8" height="22.0" rx="6" fill="#dfe3e6"/>
<ellipse cx="44.7" cy="142.3" rx="8.8" ry="10.1" fill="#17110f"/>
<ellipse cx="44.7" cy="146.3" rx="5.5" ry="5.7" fill="#9fc4e0"/>
<rect x="131.2" y="146.4" width="35.6" height="23.7" rx="6" fill="#1b1718"/>
<ellipse cx="142.3" cy="140.6" rx="7.5" ry="8.6" fill="#17110f"/>
<ellipse cx="142.3" cy="144.0" rx="4.6" ry="4.8" fill="#2a2526"/>
<rect x="175.2" y="142.0" width="30.8" height="27.1" rx="6" fill="#eceae6"/>
<ellipse cx="187.1" cy="135.2" rx="7.5" ry="8.6" fill="#17110f"/>
<ellipse cx="187.1" cy="138.5" rx="4.6" ry="4.8" fill="#d9ad92"/>
<rect x="212.5" y="145.3" width="38.0" height="28.1" rx="6" fill="#6d1e2a"/>
<ellipse cx="231.1" cy="137.9" rx="8.1" ry="9.4" fill="#17110f"/>
<ellipse cx="231.1" cy="141.5" rx="5.0" ry="5.3" fill="#9fc4e0"/>
<rect x="14.2" y="171.1" width="50.8" height="28.5" rx="6" fill="#15131a"/>
<ellipse cx="32.9" cy="164.3" rx="8.8" ry="10.1" fill="#17110f"/>
<ellipse cx="32.9" cy="168.3" rx="5.5" ry="5.7" fill="#d9ad92"/>
<rect x="104.0" y="173.5" width="47.8" height="25.4" rx="6" fill="#e8c212"/>
<ellipse cx="131.8" cy="166.0" rx="8.1" ry="9.4" fill="#17110f"/>
<ellipse cx="131.8" cy="169.7" rx="5.0" ry="5.3" fill="#9fc4e0"/>
<rect x="125.4" y="168.4" width="14.2" height="20.3" fill="#241a16"/>
<rect x="160.0" y="165.7" width="35.9" height="27.1" rx="6" fill="#efb9c0"/>
<ellipse cx="177.6" cy="157.5" rx="8.1" ry="9.4" fill="#17110f"/>
<ellipse cx="177.6" cy="161.2" rx="5.0" ry="5.3" fill="#d9ad92"/>
<rect x="200.6" y="174.5" width="41.3" height="19.3" rx="6" fill="#cfc6b4"/>
<ellipse cx="224.4" cy="167.0" rx="7.5" ry="8.6" fill="#17110f"/>
<ellipse cx="224.4" cy="170.4" rx="4.6" ry="4.8" fill="#9fc4e0"/>
<rect x="153.2" y="181.9" width="30.5" height="13.6" fill="#5a5560"/>
<rect x="0.0" y="171.8" width="10.2" height="27.1" fill="#4a8a80"/>
<polygon points="17.6,200.6 39.7,196.2 43.0,199.6 22.7,204.7" fill="#e9ecef"/>
<rect x="393.1" y="141.3" width="28.5" height="18.6" rx="6" fill="#8d98a5"/>
<ellipse cx="407.4" cy="133.8" rx="7.5" ry="8.6" fill="#17110f"/>
<ellipse cx="407.4" cy="137.2" rx="4.6" ry="4.8" fill="#9fc4e0"/>
<rect x="427.7" y="137.9" width="23.7" height="16.9" rx="6" fill="#2d2a2c"/>
<ellipse cx="439.6" cy="131.8" rx="7.1" ry="8.2" fill="#17110f"/>
<ellipse cx="439.6" cy="135.0" rx="4.4" ry="4.6" fill="#d9ad92"/>
<rect x="451.4" y="139.6" width="27.1" height="18.6" rx="6" fill="#9a8f7d"/>
<ellipse cx="466.0" cy="131.8" rx="7.5" ry="8.6" fill="#4a3424"/>
<ellipse cx="466.0" cy="135.1" rx="4.6" ry="4.8" fill="#d9ad92"/>
<rect x="489.4" y="136.2" width="19.7" height="15.3" rx="6" fill="#35303a"/>
<ellipse cx="498.9" cy="130.4" rx="6.8" ry="7.8" fill="#17110f"/>
<ellipse cx="498.9" cy="133.5" rx="4.2" ry="4.4" fill="#d9ad92"/>
<rect x="366.7" y="149.8" width="33.9" height="16.9" rx="6" fill="#c93a57"/>
<ellipse cx="383.7" cy="145.3" rx="7.8" ry="9.0" fill="#17110f"/>
<ellipse cx="383.7" cy="148.9" rx="4.8" ry="5.1" fill="#d9ad92"/>
<rect x="468.4" y="147.4" width="35.6" height="15.9" rx="6" fill="#e6e4dc"/>
<ellipse cx="485.3" cy="140.6" rx="8.1" ry="9.4" fill="#3a2a20"/>
<ellipse cx="485.3" cy="144.3" rx="5.0" ry="5.3" fill="#d9ad92"/>
<rect x="519.2" y="147.0" width="24.4" height="16.3" rx="6" fill="#d8c9ad"/>
<ellipse cx="527.7" cy="140.6" rx="7.5" ry="8.6" fill="#17110f"/>
<ellipse cx="527.7" cy="144.0" rx="4.6" ry="4.8" fill="#d9ad92"/>
<rect x="434.5" y="148.1" width="15.3" height="13.6" fill="#c9a44d"/>
<rect x="317.6" y="168.4" width="39.7" height="22.0" rx="6" fill="#d7c6b0"/>
<ellipse cx="336.2" cy="161.6" rx="8.1" ry="9.4" fill="#17110f"/>
<ellipse cx="336.2" cy="165.3" rx="5.0" ry="5.3" fill="#d9ad92"/>
<rect x="369.4" y="170.1" width="38.6" height="16.9" rx="6" fill="#878a92"/>
<ellipse cx="387.0" cy="164.3" rx="8.1" ry="9.4" fill="#17110f"/>
<ellipse cx="387.0" cy="168.0" rx="5.0" ry="5.3" fill="#d9ad92"/>
<rect x="412.5" y="169.1" width="34.9" height="18.0" rx="6" fill="#3d8a93"/>
<ellipse cx="432.8" cy="160.9" rx="8.1" ry="9.4" fill="#17110f"/>
<ellipse cx="432.8" cy="164.6" rx="5.0" ry="5.3" fill="#d9ad92"/>
<rect x="492.8" y="161.6" width="47.4" height="24.4" rx="6" fill="#111014"/>
<ellipse cx="516.5" cy="154.2" rx="8.5" ry="9.7" fill="#17110f"/>
<ellipse cx="516.5" cy="158.0" rx="5.3" ry="5.5" fill="#d9ad92"/>
<rect x="544.6" y="156.5" width="28.8" height="26.1" rx="6" fill="#d7c4a8"/>
<ellipse cx="559.9" cy="149.8" rx="8.1" ry="9.4" fill="#2e2019"/>
<ellipse cx="559.9" cy="153.4" rx="5.0" ry="5.3" fill="#d9ad92"/>
<rect x="515.8" y="170.1" width="30.5" height="18.6" fill="#2c2a30"/>
<rect x="570.1" y="172.5" width="25.4" height="15.3" fill="#56525a"/>
<rect x="375.2" y="188.0" width="37.3" height="4.7" fill="#e4e8ee"/>
<rect x="437.9" y="186.0" width="33.9" height="4.7" fill="#dfe4ea"/>
<rect x="481.9" y="181.9" width="20.3" height="7.5" fill="#5c6aa0"/>
<rect x="58.3" y="205.0" width="47.4" height="32.9" rx="4" fill="#c9c4c6"/>
<rect x="61.0" y="207.7" width="42.0" height="30.2" rx="3" fill="#5d5259"/>
<rect x="114.2" y="203.0" width="46.4" height="34.9" rx="4" fill="#c9c4c6"/>
<rect x="116.9" y="205.7" width="41.0" height="32.2" rx="3" fill="#5d5259"/>
<rect x="183.7" y="203.0" width="47.4" height="31.5" rx="4" fill="#c9c4c6"/>
<rect x="186.4" y="205.7" width="42.0" height="28.8" rx="3" fill="#5d5259"/>
<rect x="249.8" y="215.8" width="52.5" height="20.3" rx="4" fill="#c9c4c6"/>
<rect x="252.5" y="218.6" width="47.1" height="17.6" rx="3" fill="#5d5259"/>
<rect x="458.2" y="204.0" width="49.1" height="22.0" rx="4" fill="#c9c4c6"/>
<rect x="460.9" y="206.7" width="43.7" height="19.3" rx="3" fill="#5d5259"/>
<rect x="514.1" y="193.8" width="46.4" height="33.9" rx="4" fill="#c9c4c6"/>
<rect x="516.8" y="196.5" width="41.0" height="31.2" rx="3" fill="#5d5259"/>
<rect x="0.0" y="222.6" width="15.9" height="22.0" rx="4" fill="#c9c4c6"/>
<rect x="2.7" y="225.3" width="10.5" height="19.3" rx="3" fill="#5d5259"/>
<rect x="249.8" y="215.8" width="52.5" height="20.3" rx="6" fill="#4b3e55"/>
<rect x="398.9" y="198.9" width="44.1" height="30.5" rx="8" fill="#1d2030"/>
<rect x="326.7" y="203.0" width="58.6" height="29.8" rx="6" fill="#15131a"/>
<ellipse cx="365.0" cy="194.8" rx="10.8" ry="12.5" fill="#17110f"/>
<ellipse cx="365.0" cy="199.7" rx="6.7" ry="7.0" fill="#d9ad92"/>
<rect x="358.2" y="209.1" width="10.2" height="13.6" fill="#8ea4b8"/>
<path d="M0.0 249.7 Q 166.7 231.1 336.2 231.1 L 593.8 227.7 L 593.8 276.8 L 0.0 278.5 Z" fill="url(#desk)"/>
<path d="M0.0 276.8 Q 200.6 259.9 593.8 253.8 L 593.8 338.5 L 593.8 338.5 L 0.0 338.5 Z" fill="url(#front)"/>
<rect x="-2" y="283.6" width="666" height="55.9" fill="#2a140e"/>
<polygon points="593.8,229.4 663.3,249.7 663.3,373.4 593.8,338.5" fill="#2b1511"/>
<polygon points="593.8,229.4 663.3,239.6 663.3,290.4 593.8,256.5" fill="#3b3438"/>
<polygon points="595.5,215.8 619.2,227.7 622.6,253.1 600.6,246.3" fill="#0c0b0d"/>
<rect x="629.4" y="266.7" width="18.6" height="10.2" fill="#c9d0dc"/>
<ellipse cx="75.2" cy="246.3" rx="6" ry="10" fill="#d9dde4" opacity="0.85"/>
<ellipse cx="180.3" cy="244.6" rx="5" ry="9" fill="#d9dde4" opacity="0.85"/>
<ellipse cx="471.8" cy="239.6" rx="6" ry="9" fill="#d9dde4" opacity="0.85"/>
<ellipse cx="366.7" cy="249.7" rx="30" ry="3" fill="#d9dde4" opacity="0.85"/>
<ellipse cx="554.8" cy="248.7" rx="8" ry="3" fill="#d9dde4" opacity="0.85"/>
<ellipse cx="224.4" cy="256.5" rx="14" ry="2" fill="#d9dde4" opacity="0.85"/>
<ellipse cx="112.5" cy="262.6" rx="10" ry="2" fill="#d9dde4" opacity="0.85"/>
<ellipse cx="288.8" cy="251.4" rx="60" ry="7" fill="#a01c1c" opacity="0.55" filter="url(#vb2)"/>
<rect x="352.5" y="222.6" width="40.0" height="23.7" fill="#7e7f88"/>
<rect x="290.5" y="232.1" width="28.8" height="15.3" fill="#2fa33c"/>
<rect x="322.6" y="231.1" width="25.4" height="11.9" fill="#e8e6ec"/>
<rect x="391.1" y="226.0" width="7.5" height="18.6" rx="2" fill="#5a2a86"/>
<rect x="315.9" y="242.3" width="33.9" height="8.5" fill="#8e1a1a"/>
<polygon points="224.4,336.2 588.7,336.2 619.2,373.4 224.4,373.4" fill="#b1aa90"/>
<ellipse cx="25.5" cy="302.0" rx="13.2" ry="5.9" fill="#3a2228" transform="rotate(-68 25.5 302.0)"/>
<ellipse cx="11.5" cy="325.4" rx="15.5" ry="7.0" fill="#233a2b" transform="rotate(-45 11.5 325.4)"/>
<ellipse cx="32.2" cy="297.6" rx="8.3" ry="3.7" fill="#233a2b" transform="rotate(-12 32.2 297.6)"/>
<ellipse cx="63.6" cy="328.0" rx="12.6" ry="5.7" fill="#5e3340" transform="rotate(-70 63.6 328.0)"/>
<ellipse cx="8.8" cy="305.8" rx="12.4" ry="5.6" fill="#5e3340" transform="rotate(-58 8.8 305.8)"/>
<ellipse cx="14.6" cy="300.2" rx="10.2" ry="4.6" fill="#2a3f33" transform="rotate(50 14.6 300.2)"/>
<ellipse cx="12.1" cy="324.8" rx="9.1" ry="4.1" fill="#233a2b" transform="rotate(-64 12.1 324.8)"/>
<ellipse cx="40.2" cy="327.4" rx="11.8" ry="5.3" fill="#4a2a34" transform="rotate(5 40.2 327.4)"/>
<ellipse cx="34.2" cy="343.9" rx="10.6" ry="4.8" fill="#2a3f33" transform="rotate(-40 34.2 343.9)"/>
<ellipse cx="48.4" cy="307.0" rx="12.5" ry="5.6" fill="#4a2a34" transform="rotate(4 48.4 307.0)"/>
<ellipse cx="50.3" cy="309.4" rx="16.1" ry="7.2" fill="#5e3340" transform="rotate(-61 50.3 309.4)"/>
<ellipse cx="15.8" cy="312.3" rx="15.7" ry="7.1" fill="#233a2b" transform="rotate(-12 15.8 312.3)"/>
<ellipse cx="52.4" cy="324.9" rx="15.2" ry="6.8" fill="#4a2a34" transform="rotate(-29 52.4 324.9)"/>
<ellipse cx="42.0" cy="325.2" rx="11.5" ry="5.2" fill="#31463a" transform="rotate(54 42.0 325.2)"/>
<ellipse cx="34.7" cy="329.8" rx="8.0" ry="3.6" fill="#6a3a3a" transform="rotate(32 34.7 329.8)"/>
<ellipse cx="23.1" cy="314.7" rx="13.3" ry="6.0" fill="#6a3a3a" transform="rotate(-76 23.1 314.7)"/>
<ellipse cx="27.4" cy="326.9" rx="11.8" ry="5.3" fill="#31463a" transform="rotate(-45 27.4 326.9)"/>
<ellipse cx="13.7" cy="307.2" rx="10.9" ry="4.9" fill="#233a2b" transform="rotate(59 13.7 307.2)"/>
<ellipse cx="15.9" cy="315.6" rx="9.9" ry="4.5" fill="#5e3340" transform="rotate(-58 15.9 315.6)"/>
<ellipse cx="58.5" cy="308.9" rx="11.1" ry="5.0" fill="#5e3340" transform="rotate(-22 58.5 308.9)"/>
<ellipse cx="64.2" cy="302.0" rx="9.0" ry="4.1" fill="#1a1f1d" transform="rotate(-42 64.2 302.0)"/>
<ellipse cx="6.5" cy="338.9" rx="9.1" ry="4.1" fill="#2a3f33" transform="rotate(-34 6.5 338.9)"/>
<ellipse cx="31.3" cy="313.8" rx="12.4" ry="5.6" fill="#3a2228" transform="rotate(72 31.3 313.8)"/>
<ellipse cx="63.7" cy="329.3" rx="14.0" ry="6.3" fill="#3a2228" transform="rotate(-6 63.7 329.3)"/>
<ellipse cx="29.7" cy="315.4" rx="8.4" ry="3.8" fill="#1c2b22" transform="rotate(21 29.7 315.4)"/>
<ellipse cx="17.4" cy="347.2" rx="11.3" ry="5.1" fill="#1c2b22" transform="rotate(-62 17.4 347.2)"/>
<ellipse cx="24.1" cy="307.5" rx="4.7" ry="2.8" fill="#8e5a78" transform="rotate(71 24.1 307.5)"/>
<ellipse cx="21.8" cy="315.8" rx="4.9" ry="3.0" fill="#a9688f" transform="rotate(-56 21.8 315.8)"/>
<ellipse cx="50.2" cy="308.4" rx="4.5" ry="2.7" fill="#d3a3c4" transform="rotate(-61 50.2 308.4)"/>
<ellipse cx="51.3" cy="304.7" rx="4.5" ry="2.7" fill="#b579a4" transform="rotate(-66 51.3 304.7)"/>
<ellipse cx="43.9" cy="312.2" rx="4.5" ry="2.7" fill="#8e5a78" transform="rotate(30 43.9 312.2)"/>
<ellipse cx="21.7" cy="317.9" rx="4.7" ry="2.8" fill="#8e5a78" transform="rotate(-56 21.7 317.9)"/>
<ellipse cx="48.9" cy="312.7" rx="4.0" ry="2.4" fill="#b579a4" transform="rotate(22 48.9 312.7)"/>
<ellipse cx="42.3" cy="299.2" rx="4.2" ry="2.5" fill="#c58fb6" transform="rotate(-53 42.3 299.2)"/>
<ellipse cx="37.3" cy="313.2" rx="4.1" ry="2.4" fill="#c58fb6" transform="rotate(-44 37.3 313.2)"/>
<ellipse cx="54.4" cy="295.8" rx="8.8" ry="2.6" fill="#3a2228" transform="rotate(-43 54.4 295.8)"/>
<ellipse cx="45.2" cy="282.4" rx="4.9" ry="1.5" fill="#6a3a3a" transform="rotate(-35 45.2 282.4)"/>
<ellipse cx="41.9" cy="292.2" rx="6.6" ry="2.0" fill="#6a3a3a" transform="rotate(49 41.9 292.2)"/>
<ellipse cx="57.4" cy="288.1" rx="5.9" ry="1.8" fill="#5e3340" transform="rotate(-43 57.4 288.1)"/>
<ellipse cx="142.4" cy="340.4" rx="19.5" ry="8.8" fill="#1c2b22" transform="rotate(17 142.4 340.4)"/>
<ellipse cx="157.7" cy="348.5" rx="17.3" ry="7.8" fill="#1c2b22" transform="rotate(-66 157.7 348.5)"/>
<ellipse cx="204.4" cy="354.6" rx="16.8" ry="7.6" fill="#233a2b" transform="rotate(-3 204.4 354.6)"/>
<ellipse cx="152.8" cy="347.7" rx="9.1" ry="4.1" fill="#1a1f1d" transform="rotate(71 152.8 347.7)"/>
<ellipse cx="156.0" cy="352.8" rx="9.1" ry="4.1" fill="#233a2b" transform="rotate(-54 156.0 352.8)"/>
<ellipse cx="108.7" cy="345.5" rx="13.5" ry="6.1" fill="#31463a" transform="rotate(24 108.7 345.5)"/>
<ellipse cx="195.4" cy="364.0" rx="15.7" ry="7.1" fill="#31463a" transform="rotate(-23 195.4 364.0)"/>
<ellipse cx="165.2" cy="318.5" rx="17.3" ry="7.8" fill="#1c2b22" transform="rotate(36 165.2 318.5)"/>
<ellipse cx="162.9" cy="361.8" rx="13.1" ry="5.9" fill="#233a2b" transform="rotate(59 162.9 361.8)"/>
<ellipse cx="108.8" cy="327.6" rx="13.9" ry="6.3" fill="#2a3f33" transform="rotate(42 108.8 327.6)"/>
<ellipse cx="133.9" cy="337.4" rx="9.6" ry="4.3" fill="#2a3f33" transform="rotate(65 133.9 337.4)"/>
<ellipse cx="203.1" cy="348.9" rx="17.5" ry="7.9" fill="#31463a" transform="rotate(2 203.1 348.9)"/>
<ellipse cx="119.9" cy="324.7" rx="14.0" ry="6.3" fill="#233a2b" transform="rotate(59 119.9 324.7)"/>
<ellipse cx="171.7" cy="354.3" rx="9.9" ry="4.4" fill="#31463a" transform="rotate(-57 171.7 354.3)"/>
<ellipse cx="184.4" cy="343.9" rx="11.9" ry="5.4" fill="#31463a" transform="rotate(2 184.4 343.9)"/>
<ellipse cx="158.1" cy="354.4" rx="18.3" ry="8.2" fill="#233a2b" transform="rotate(-70 158.1 354.4)"/>
<ellipse cx="135.8" cy="354.2" rx="14.0" ry="6.3" fill="#1c2b22" transform="rotate(9 135.8 354.2)"/>
<ellipse cx="153.8" cy="346.6" rx="14.0" ry="6.3" fill="#2a3f33" transform="rotate(1 153.8 346.6)"/>
<ellipse cx="154.8" cy="342.8" rx="13.6" ry="6.1" fill="#31463a" transform="rotate(70 154.8 342.8)"/>
<ellipse cx="200.8" cy="362.2" rx="11.1" ry="5.0" fill="#233a2b" transform="rotate(9 200.8 362.2)"/>
<ellipse cx="196.8" cy="324.0" rx="9.5" ry="4.3" fill="#1c2b22" transform="rotate(-9 196.8 324.0)"/>
<ellipse cx="178.5" cy="337.8" rx="10.6" ry="4.8" fill="#1c2b22" transform="rotate(-31 178.5 337.8)"/>
<ellipse cx="203.0" cy="324.8" rx="16.4" ry="7.4" fill="#233a2b" transform="rotate(25 203.0 324.8)"/>
<ellipse cx="133.2" cy="324.0" rx="13.5" ry="6.1" fill="#1c2b22" transform="rotate(39 133.2 324.0)"/>
<ellipse cx="148.9" cy="340.6" rx="19.5" ry="8.8" fill="#233a2b" transform="rotate(53 148.9 340.6)"/>
<ellipse cx="182.3" cy="364.7" rx="12.8" ry="5.8" fill="#2a3f33" transform="rotate(-12 182.3 364.7)"/>
<ellipse cx="140.3" cy="351.8" rx="8.4" ry="3.8" fill="#1a1f1d" transform="rotate(8 140.3 351.8)"/>
<ellipse cx="182.0" cy="335.8" rx="14.1" ry="6.3" fill="#1c2b22" transform="rotate(-32 182.0 335.8)"/>
<ellipse cx="118.0" cy="361.1" rx="10.8" ry="4.8" fill="#1c2b22" transform="rotate(60 118.0 361.1)"/>
<ellipse cx="134.5" cy="319.4" rx="17.1" ry="7.7" fill="#233a2b" transform="rotate(-36 134.5 319.4)"/>
<ellipse cx="194.7" cy="357.8" rx="15.9" ry="7.2" fill="#1a1f1d" transform="rotate(71 194.7 357.8)"/>
<ellipse cx="121.9" cy="361.1" rx="14.7" ry="6.6" fill="#1c2b22" transform="rotate(32 121.9 361.1)"/>
<ellipse cx="136.0" cy="355.5" rx="10.2" ry="4.6" fill="#2a3f33" transform="rotate(63 136.0 355.5)"/>
<ellipse cx="207.5" cy="347.6" rx="17.4" ry="7.8" fill="#233a2b" transform="rotate(-66 207.5 347.6)"/>
<ellipse cx="113.0" cy="358.5" rx="13.4" ry="6.0" fill="#31463a" transform="rotate(-25 113.0 358.5)"/>
<ellipse cx="151.1" cy="360.9" rx="15.3" ry="6.9" fill="#233a2b" transform="rotate(-73 151.1 360.9)"/>
<ellipse cx="207.5" cy="363.5" rx="11.2" ry="5.0" fill="#2a3f33" transform="rotate(-51 207.5 363.5)"/>
<ellipse cx="173.9" cy="342.7" rx="10.5" ry="4.7" fill="#233a2b" transform="rotate(-8 173.9 342.7)"/>
<ellipse cx="135.1" cy="355.6" rx="19.6" ry="8.8" fill="#1c2b22" transform="rotate(-74 135.1 355.6)"/>
<ellipse cx="185.2" cy="343.7" rx="10.3" ry="4.6" fill="#1a1f1d" transform="rotate(-4 185.2 343.7)"/>
<ellipse cx="123.6" cy="325.2" rx="8.6" ry="3.3" fill="#358a44" transform="rotate(0 123.6 325.2)"/>
<ellipse cx="158.8" cy="318.3" rx="7.3" ry="2.8" fill="#2f7a3c" transform="rotate(-43 158.8 318.3)"/>
<ellipse cx="153.1" cy="323.7" rx="9.8" ry="3.7" fill="#255a30" transform="rotate(-15 153.1 323.7)"/>
<ellipse cx="159.2" cy="325.5" rx="6.2" ry="2.3" fill="#255a30" transform="rotate(20 159.2 325.5)"/>
<ellipse cx="136.8" cy="314.9" rx="9.9" ry="3.8" fill="#1f4a29" transform="rotate(-19 136.8 314.9)"/>
<ellipse cx="188.3" cy="311.2" rx="3.4" ry="1.7" fill="#dfe8d8" transform="rotate(-33 188.3 311.2)"/>
<ellipse cx="180.1" cy="311.2" rx="2.7" ry="1.4" fill="#ffffff" transform="rotate(-21 180.1 311.2)"/>
<ellipse cx="193.4" cy="312.7" rx="3.4" ry="1.7" fill="#ffffff" transform="rotate(74 193.4 312.7)"/>
<ellipse cx="180.6" cy="310.7" rx="3.6" ry="1.8" fill="#ffffff" transform="rotate(-66 180.6 310.7)"/>
<ellipse cx="187.8" cy="304.6" rx="2.2" ry="8" fill="#e6efda" transform="rotate(12 187.8 304.6)"/>
<ellipse cx="282.2" cy="312.2" rx="14.0" ry="6.3" fill="#2a3f33" transform="rotate(-79 282.2 312.2)"/>
<ellipse cx="304.5" cy="307.9" rx="14.9" ry="6.7" fill="#2a3f33" transform="rotate(-16 304.5 307.9)"/>
<ellipse cx="268.0" cy="314.5" rx="14.9" ry="6.7" fill="#233a2b" transform="rotate(4 268.0 314.5)"/>
<ellipse cx="293.2" cy="350.6" rx="18.3" ry="8.2" fill="#2a3f33" transform="rotate(-17 293.2 350.6)"/>
<ellipse cx="297.7" cy="334.0" rx="11.4" ry="5.1" fill="#233a2b" transform="rotate(18 297.7 334.0)"/>
<ellipse cx="249.5" cy="359.5" rx="18.4" ry="8.3" fill="#31463a" transform="rotate(20 249.5 359.5)"/>
<ellipse cx="256.3" cy="336.2" rx="13.9" ry="6.3" fill="#1c2b22" transform="rotate(53 256.3 336.2)"/>
<ellipse cx="305.2" cy="340.7" rx="18.4" ry="8.3" fill="#233a2b" transform="rotate(29 305.2 340.7)"/>
<ellipse cx="252.4" cy="300.3" rx="15.5" ry="7.0" fill="#1a1f1d" transform="rotate(73 252.4 300.3)"/>
<ellipse cx="305.9" cy="338.8" rx="15.4" ry="6.9" fill="#233a2b" transform="rotate(20 305.9 338.8)"/>
<ellipse cx="281.2" cy="297.4" rx="17.3" ry="7.8" fill="#31463a" transform="rotate(39 281.2 297.4)"/>
<ellipse cx="310.3" cy="304.0" rx="14.2" ry="6.4" fill="#1a1f1d" transform="rotate(39 310.3 304.0)"/>
<ellipse cx="264.3" cy="302.7" rx="11.2" ry="5.0" fill="#233a2b" transform="rotate(36 264.3 302.7)"/>
<ellipse cx="262.8" cy="345.6" rx="13.4" ry="6.0" fill="#1c2b22" transform="rotate(55 262.8 345.6)"/>
<ellipse cx="280.5" cy="348.2" rx="17.0" ry="7.6" fill="#233a2b" transform="rotate(18 280.5 348.2)"/>
<ellipse cx="251.9" cy="308.2" rx="11.1" ry="5.0" fill="#2a3f33" transform="rotate(38 251.9 308.2)"/>
<ellipse cx="290.6" cy="307.1" rx="13.7" ry="6.2" fill="#1c2b22" transform="rotate(-2 290.6 307.1)"/>
<ellipse cx="295.7" cy="347.6" rx="11.5" ry="5.2" fill="#1a1f1d" transform="rotate(2 295.7 347.6)"/>
<ellipse cx="279.6" cy="354.4" rx="19.6" ry="8.8" fill="#2a3f33" transform="rotate(7 279.6 354.4)"/>
<ellipse cx="316.0" cy="367.0" rx="8.3" ry="3.8" fill="#31463a" transform="rotate(-6 316.0 367.0)"/>
<ellipse cx="315.3" cy="330.7" rx="11.2" ry="5.1" fill="#233a2b" transform="rotate(-46 315.3 330.7)"/>
<ellipse cx="251.7" cy="303.9" rx="16.7" ry="7.5" fill="#2a3f33" transform="rotate(-38 251.7 303.9)"/>
<ellipse cx="255.8" cy="358.3" rx="14.0" ry="6.3" fill="#2a3f33" transform="rotate(61 255.8 358.3)"/>
<ellipse cx="262.9" cy="364.1" rx="13.7" ry="6.2" fill="#1c2b22" transform="rotate(-76 262.9 364.1)"/>
<ellipse cx="314.0" cy="348.0" rx="12.8" ry="5.8" fill="#1a1f1d" transform="rotate(36 314.0 348.0)"/>
<ellipse cx="270.9" cy="320.7" rx="17.8" ry="8.0" fill="#2a3f33" transform="rotate(-79 270.9 320.7)"/>
<ellipse cx="306.1" cy="306.1" rx="18.8" ry="8.5" fill="#2a3f33" transform="rotate(34 306.1 306.1)"/>
<ellipse cx="264.4" cy="302.0" rx="12.6" ry="5.7" fill="#1c2b22" transform="rotate(59 264.4 302.0)"/>
<ellipse cx="272.1" cy="329.1" rx="11.3" ry="5.1" fill="#1c2b22" transform="rotate(-72 272.1 329.1)"/>
<ellipse cx="250.1" cy="346.5" rx="15.5" ry="7.0" fill="#2a3f33" transform="rotate(-56 250.1 346.5)"/>
<ellipse cx="277.4" cy="320.7" rx="17.0" ry="7.7" fill="#1a1f1d" transform="rotate(45 277.4 320.7)"/>
<ellipse cx="309.3" cy="357.7" rx="15.4" ry="6.9" fill="#31463a" transform="rotate(66 309.3 357.7)"/>
<ellipse cx="285.5" cy="350.8" rx="8.7" ry="3.9" fill="#1a1f1d" transform="rotate(37 285.5 350.8)"/>
<ellipse cx="290.2" cy="307.5" rx="18.2" ry="8.2" fill="#31463a" transform="rotate(-2 290.2 307.5)"/>
<ellipse cx="255.5" cy="332.4" rx="12.1" ry="5.4" fill="#2a3f33" transform="rotate(-32 255.5 332.4)"/>
<ellipse cx="275.3" cy="315.0" rx="13.7" ry="6.2" fill="#1c2b22" transform="rotate(27 275.3 315.0)"/>
<ellipse cx="258.3" cy="309.2" rx="10.5" ry="4.7" fill="#1a1f1d" transform="rotate(64 258.3 309.2)"/>
<ellipse cx="285.6" cy="331.0" rx="12.0" ry="5.4" fill="#1a1f1d" transform="rotate(41 285.6 331.0)"/>
<ellipse cx="256.3" cy="311.5" rx="9.2" ry="4.1" fill="#1c2b22" transform="rotate(-25 256.3 311.5)"/>
<ellipse cx="269.1" cy="324.6" rx="17.5" ry="7.9" fill="#1c2b22" transform="rotate(-47 269.1 324.6)"/>
<ellipse cx="289.6" cy="306.1" rx="4.3" ry="2.6" fill="#d3a3c4" transform="rotate(3 289.6 306.1)"/>
<ellipse cx="275.0" cy="317.6" rx="4.6" ry="2.7" fill="#a9688f" transform="rotate(11 275.0 317.6)"/>
<ellipse cx="270.6" cy="309.2" rx="5.0" ry="3.0" fill="#c58fb6" transform="rotate(58 270.6 309.2)"/>
<ellipse cx="269.6" cy="322.5" rx="4.2" ry="2.5" fill="#d3a3c4" transform="rotate(23 269.6 322.5)"/>
<ellipse cx="295.8" cy="320.9" rx="5.7" ry="3.4" fill="#b579a4" transform="rotate(-76 295.8 320.9)"/>
<ellipse cx="279.7" cy="318.0" rx="5.5" ry="3.3" fill="#d3a3c4" transform="rotate(74 279.7 318.0)"/>
<ellipse cx="266.7" cy="305.4" rx="5.9" ry="3.5" fill="#d3a3c4" transform="rotate(52 266.7 305.4)"/>
<ellipse cx="296.4" cy="300.5" rx="3.4" ry="2.0" fill="#8e5a78" transform="rotate(-55 296.4 300.5)"/>
<ellipse cx="311.9" cy="319.0" rx="5.0" ry="3.0" fill="#d3a3c4" transform="rotate(32 311.9 319.0)"/>
<ellipse cx="293.9" cy="328.0" rx="3.1" ry="1.8" fill="#8e5a78" transform="rotate(-59 293.9 328.0)"/>
<ellipse cx="310.9" cy="326.3" rx="3.8" ry="2.3" fill="#a9688f" transform="rotate(-59 310.9 326.3)"/>
<ellipse cx="302.9" cy="323.4" rx="4.9" ry="2.9" fill="#a9688f" transform="rotate(-64 302.9 323.4)"/>
<ellipse cx="289.0" cy="357.2" rx="3.2" ry="1.9" fill="#d9aac6" transform="rotate(-44 289.0 357.2)"/>
<ellipse cx="283.8" cy="354.9" rx="3.3" ry="2.0" fill="#d9aac6" transform="rotate(73 283.8 354.9)"/>
<ellipse cx="288.5" cy="354.3" rx="3.0" ry="1.8" fill="#d9aac6" transform="rotate(73 288.5 354.3)"/>
<ellipse cx="266.2" cy="291.0" rx="8.3" ry="2.5" fill="#4a2a34" transform="rotate(23 266.2 291.0)"/>
<ellipse cx="270.3" cy="300.6" rx="8.5" ry="2.6" fill="#4a2a34" transform="rotate(-43 270.3 300.6)"/>
<ellipse cx="279.2" cy="301.6" rx="6.2" ry="1.9" fill="#4a2a34" transform="rotate(-16 279.2 301.6)"/>
<ellipse cx="281.2" cy="302.0" rx="6.8" ry="2.0" fill="#5e3340" transform="rotate(-47 281.2 302.0)"/>
<ellipse cx="396.3" cy="361.5" rx="11.0" ry="4.9" fill="#1c3322" transform="rotate(-44 396.3 361.5)"/>
<ellipse cx="451.1" cy="327.8" rx="15.7" ry="7.1" fill="#2f7a3c" transform="rotate(17 451.1 327.8)"/>
<ellipse cx="412.7" cy="365.8" rx="8.8" ry="4.0" fill="#358a44" transform="rotate(15 412.7 365.8)"/>
<ellipse cx="371.9" cy="323.7" rx="15.4" ry="6.9" fill="#1f3a25" transform="rotate(-13 371.9 323.7)"/>
<ellipse cx="372.4" cy="341.3" rx="19.1" ry="8.6" fill="#1f3a25" transform="rotate(61 372.4 341.3)"/>
<ellipse cx="377.5" cy="326.4" rx="10.2" ry="4.6" fill="#1f3a25" transform="rotate(-49 377.5 326.4)"/>
<ellipse cx="455.5" cy="358.0" rx="8.5" ry="3.8" fill="#358a44" transform="rotate(26 455.5 358.0)"/>
<ellipse cx="446.3" cy="369.3" rx="13.5" ry="6.1" fill="#2b6a36" transform="rotate(-62 446.3 369.3)"/>
<ellipse cx="393.3" cy="339.3" rx="19.8" ry="8.9" fill="#1c3322" transform="rotate(-60 393.3 339.3)"/>
<ellipse cx="386.4" cy="339.5" rx="18.2" ry="8.2" fill="#358a44" transform="rotate(51 386.4 339.5)"/>
<ellipse cx="375.0" cy="356.1" rx="10.5" ry="4.7" fill="#358a44" transform="rotate(6 375.0 356.1)"/>
<ellipse cx="385.0" cy="339.9" rx="19.1" ry="8.6" fill="#358a44" transform="rotate(-75 385.0 339.9)"/>
<ellipse cx="390.2" cy="352.3" rx="13.1" ry="5.9" fill="#358a44" transform="rotate(-19 390.2 352.3)"/>
<ellipse cx="372.6" cy="366.3" rx="11.3" ry="5.1" fill="#1f4a29" transform="rotate(39 372.6 366.3)"/>
<ellipse cx="398.9" cy="335.5" rx="19.8" ry="8.9" fill="#255a30" transform="rotate(18 398.9 335.5)"/>
<ellipse cx="437.5" cy="355.3" rx="19.4" ry="8.7" fill="#1f3a25" transform="rotate(-32 437.5 355.3)"/>
<ellipse cx="438.4" cy="366.1" rx="15.9" ry="7.1" fill="#2b6a36" transform="rotate(70 438.4 366.1)"/>
<ellipse cx="445.1" cy="327.7" rx="16.9" ry="7.6" fill="#1c3322" transform="rotate(-5 445.1 327.7)"/>
<ellipse cx="403.4" cy="334.5" rx="13.4" ry="6.0" fill="#358a44" transform="rotate(-1 403.4 334.5)"/>
<ellipse cx="384.1" cy="360.7" rx="17.1" ry="7.7" fill="#1c3322" transform="rotate(51 384.1 360.7)"/>
<ellipse cx="381.1" cy="333.8" rx="18.6" ry="8.4" fill="#1c3322" transform="rotate(-6 381.1 333.8)"/>
<ellipse cx="440.9" cy="326.3" rx="10.5" ry="4.7" fill="#2f7a3c" transform="rotate(40 440.9 326.3)"/>
<ellipse cx="405.4" cy="353.4" rx="14.0" ry="6.3" fill="#2f7a3c" transform="rotate(7 405.4 353.4)"/>
<ellipse cx="459.7" cy="364.5" rx="20.2" ry="9.1" fill="#2b6a36" transform="rotate(-37 459.7 364.5)"/>
<ellipse cx="386.5" cy="342.6" rx="20.2" ry="9.1" fill="#2f7a3c" transform="rotate(75 386.5 342.6)"/>
<ellipse cx="388.9" cy="342.4" rx="15.7" ry="7.1" fill="#1f3a25" transform="rotate(27 388.9 342.4)"/>
<ellipse cx="417.8" cy="359.3" rx="17.4" ry="7.8" fill="#255a30" transform="rotate(44 417.8 359.3)"/>
<ellipse cx="394.6" cy="349.5" rx="12.7" ry="5.7" fill="#2f7a3c" transform="rotate(38 394.6 349.5)"/>
<ellipse cx="408.4" cy="331.4" rx="11.0" ry="5.0" fill="#1f4a29" transform="rotate(-34 408.4 331.4)"/>
<ellipse cx="384.6" cy="325.7" rx="11.2" ry="5.0" fill="#1f4a29" transform="rotate(-40 384.6 325.7)"/>
<ellipse cx="388.7" cy="361.0" rx="16.1" ry="7.2" fill="#2b6a36" transform="rotate(78 388.7 361.0)"/>
<ellipse cx="367.1" cy="364.5" rx="11.0" ry="4.9" fill="#255a30" transform="rotate(-8 367.1 364.5)"/>
<ellipse cx="370.5" cy="336.5" rx="9.6" ry="4.3" fill="#1c3322" transform="rotate(-49 370.5 336.5)"/>
<ellipse cx="422.1" cy="366.7" rx="12.7" ry="5.7" fill="#358a44" transform="rotate(58 422.1 366.7)"/>
<ellipse cx="423.9" cy="359.4" rx="16.2" ry="7.3" fill="#1f3a25" transform="rotate(-78 423.9 359.4)"/>
<ellipse cx="423.3" cy="352.0" rx="10.8" ry="4.9" fill="#2f7a3c" transform="rotate(-21 423.3 352.0)"/>
<ellipse cx="370.9" cy="370.0" rx="8.6" ry="3.9" fill="#2f7a3c" transform="rotate(37 370.9 370.0)"/>
<ellipse cx="444.0" cy="361.4" rx="13.1" ry="5.9" fill="#1f4a29" transform="rotate(-20 444.0 361.4)"/>
<ellipse cx="396.3" cy="332.2" rx="17.8" ry="8.0" fill="#2b6a36" transform="rotate(7 396.3 332.2)"/>
<ellipse cx="405.4" cy="360.4" rx="16.2" ry="7.3" fill="#1f4a29" transform="rotate(-55 405.4 360.4)"/>
<ellipse cx="364.1" cy="320.8" rx="7.6" ry="3.4" fill="#ffffff" transform="rotate(-14 364.1 320.8)"/>
<ellipse cx="379.7" cy="326.0" rx="5.0" ry="2.2" fill="#ffffff" transform="rotate(39 379.7 326.0)"/>
<ellipse cx="372.9" cy="317.9" rx="7.9" ry="3.5" fill="#e8efe3" transform="rotate(48 372.9 317.9)"/>
<ellipse cx="372.2" cy="325.7" rx="8.6" ry="3.9" fill="#e8efe3" transform="rotate(-10 372.2 325.7)"/>
<ellipse cx="373.1" cy="334.2" rx="6.4" ry="2.9" fill="#dfe8d8" transform="rotate(61 373.1 334.2)"/>
<ellipse cx="382.6" cy="320.2" rx="5.0" ry="2.2" fill="#dfe8d8" transform="rotate(-57 382.6 320.2)"/>
<ellipse cx="364.0" cy="330.2" rx="6.3" ry="2.8" fill="#e8efe3" transform="rotate(0 364.0 330.2)"/>
<ellipse cx="371.1" cy="320.8" rx="5.4" ry="2.4" fill="#dfe8d8" transform="rotate(-69 371.1 320.8)"/>
<ellipse cx="424.1" cy="326.4" rx="8.0" ry="3.6" fill="#e8efe3" transform="rotate(-48 424.1 326.4)"/>
<ellipse cx="430.7" cy="308.4" rx="7.8" ry="3.5" fill="#dfe8d8" transform="rotate(-29 430.7 308.4)"/>
<ellipse cx="416.5" cy="324.2" rx="7.1" ry="3.2" fill="#e8efe3" transform="rotate(62 416.5 324.2)"/>
<ellipse cx="426.6" cy="321.9" rx="5.4" ry="2.4" fill="#e8efe3" transform="rotate(-4 426.6 321.9)"/>
<ellipse cx="415.6" cy="329.6" rx="5.3" ry="2.4" fill="#e8efe3" transform="rotate(-22 415.6 329.6)"/>
<ellipse cx="419.5" cy="324.5" rx="7.8" ry="3.5" fill="#f3f6f1" transform="rotate(-73 419.5 324.5)"/>
<ellipse cx="427.5" cy="315.0" rx="6.1" ry="2.7" fill="#ffffff" transform="rotate(-7 427.5 315.0)"/>
<ellipse cx="427.0" cy="293.8" rx="2.4" ry="11" fill="#eef3e4" transform="rotate(10 427.0 293.8)"/>
<ellipse cx="359.3" cy="304.6" rx="2.2" ry="9" fill="#e6eeda" transform="rotate(-25 359.3 304.6)"/>
<ellipse cx="398.9" cy="366.7" rx="18.6" ry="8.5" fill="#17251b"/>
<ellipse cx="559.3" cy="315.5" rx="11.0" ry="5.0" fill="#2a3f33" transform="rotate(-17 559.3 315.5)"/>
<ellipse cx="546.3" cy="326.1" rx="8.4" ry="3.8" fill="#1a1f1d" transform="rotate(19 546.3 326.1)"/>
<ellipse cx="547.5" cy="326.7" rx="15.3" ry="6.9" fill="#233a2b" transform="rotate(51 547.5 326.7)"/>
<ellipse cx="569.7" cy="323.0" rx="8.9" ry="4.0" fill="#2a3f33" transform="rotate(-22 569.7 323.0)"/>
<ellipse cx="523.4" cy="326.4" rx="14.0" ry="6.3" fill="#233a2b" transform="rotate(-73 523.4 326.4)"/>
<ellipse cx="522.8" cy="350.1" rx="17.1" ry="7.7" fill="#1c2b22" transform="rotate(1 522.8 350.1)"/>
<ellipse cx="566.0" cy="363.2" rx="15.7" ry="7.0" fill="#1c2b22" transform="rotate(45 566.0 363.2)"/>
<ellipse cx="572.7" cy="371.4" rx="16.6" ry="7.5" fill="#233a2b" transform="rotate(50 572.7 371.4)"/>
<ellipse cx="526.0" cy="362.4" rx="11.5" ry="5.2" fill="#233a2b" transform="rotate(49 526.0 362.4)"/>
<ellipse cx="561.7" cy="349.1" rx="10.7" ry="4.8" fill="#31463a" transform="rotate(53 561.7 349.1)"/>
<ellipse cx="566.2" cy="303.3" rx="18.5" ry="8.3" fill="#1a1f1d" transform="rotate(-36 566.2 303.3)"/>
<ellipse cx="526.8" cy="331.3" rx="18.7" ry="8.4" fill="#2a3f33" transform="rotate(-46 526.8 331.3)"/>
<ellipse cx="557.2" cy="309.7" rx="12.4" ry="5.6" fill="#1a1f1d" transform="rotate(-48 557.2 309.7)"/>
<ellipse cx="527.9" cy="366.6" rx="16.0" ry="7.2" fill="#233a2b" transform="rotate(63 527.9 366.6)"/>
<ellipse cx="568.5" cy="311.9" rx="17.0" ry="7.6" fill="#2a3f33" transform="rotate(-72 568.5 311.9)"/>
<ellipse cx="579.7" cy="327.3" rx="14.1" ry="6.4" fill="#1c2b22" transform="rotate(30 579.7 327.3)"/>
<ellipse cx="533.8" cy="334.0" rx="18.0" ry="8.1" fill="#2a3f33" transform="rotate(38 533.8 334.0)"/>
<ellipse cx="534.6" cy="371.0" rx="14.8" ry="6.7" fill="#1c2b22" transform="rotate(-22 534.6 371.0)"/>
<ellipse cx="546.0" cy="304.8" rx="16.7" ry="7.5" fill="#31463a" transform="rotate(-72 546.0 304.8)"/>
<ellipse cx="533.9" cy="342.4" rx="19.5" ry="8.8" fill="#2a3f33" transform="rotate(13 533.9 342.4)"/>
<ellipse cx="564.7" cy="351.2" rx="10.7" ry="4.8" fill="#1a1f1d" transform="rotate(-33 564.7 351.2)"/>
<ellipse cx="544.4" cy="320.0" rx="8.7" ry="3.9" fill="#31463a" transform="rotate(-1 544.4 320.0)"/>
<ellipse cx="559.6" cy="292.2" rx="8.2" ry="3.7" fill="#1c2b22" transform="rotate(-23 559.6 292.2)"/>
<ellipse cx="551.2" cy="333.8" rx="12.9" ry="5.8" fill="#233a2b" transform="rotate(-31 551.2 333.8)"/>
<ellipse cx="530.7" cy="341.2" rx="13.6" ry="6.1" fill="#233a2b" transform="rotate(-58 530.7 341.2)"/>
<ellipse cx="563.1" cy="327.1" rx="8.9" ry="4.0" fill="#2a3f33" transform="rotate(-56 563.1 327.1)"/>
<ellipse cx="543.4" cy="311.9" rx="8.3" ry="3.7" fill="#31463a" transform="rotate(23 543.4 311.9)"/>
<ellipse cx="575.0" cy="338.8" rx="14.8" ry="6.7" fill="#31463a" transform="rotate(16 575.0 338.8)"/>
<ellipse cx="564.8" cy="310.6" rx="18.5" ry="8.3" fill="#31463a" transform="rotate(-72 564.8 310.6)"/>
<ellipse cx="519.1" cy="305.5" rx="10.0" ry="4.5" fill="#1c2b22" transform="rotate(65 519.1 305.5)"/>
<ellipse cx="518.3" cy="335.2" rx="19.0" ry="8.5" fill="#233a2b" transform="rotate(-57 518.3 335.2)"/>
<ellipse cx="550.9" cy="342.7" rx="15.6" ry="7.0" fill="#31463a" transform="rotate(-13 550.9 342.7)"/>
<ellipse cx="528.8" cy="315.6" rx="11.6" ry="5.2" fill="#1a1f1d" transform="rotate(-72 528.8 315.6)"/>
<ellipse cx="563.6" cy="290.9" rx="17.9" ry="8.0" fill="#1a1f1d" transform="rotate(39 563.6 290.9)"/>
<ellipse cx="522.7" cy="343.7" rx="10.2" ry="4.6" fill="#2a3f33" transform="rotate(79 522.7 343.7)"/>
<ellipse cx="532.5" cy="293.6" rx="12.0" ry="5.4" fill="#2a3f33" transform="rotate(39 532.5 293.6)"/>
<ellipse cx="563.4" cy="312.0" rx="14.5" ry="6.5" fill="#31463a" transform="rotate(-10 563.4 312.0)"/>
<ellipse cx="580.1" cy="314.4" rx="18.8" ry="8.5" fill="#1c2b22" transform="rotate(63 580.1 314.4)"/>
<ellipse cx="574.2" cy="291.6" rx="11.1" ry="5.0" fill="#233a2b" transform="rotate(-42 574.2 291.6)"/>
<ellipse cx="578.4" cy="351.1" rx="11.9" ry="5.4" fill="#2a3f33" transform="rotate(60 578.4 351.1)"/>
<ellipse cx="556.2" cy="321.3" rx="18.0" ry="8.1" fill="#31463a" transform="rotate(67 556.2 321.3)"/>
<ellipse cx="547.8" cy="358.7" rx="16.2" ry="7.3" fill="#1a1f1d" transform="rotate(57 547.8 358.7)"/>
<ellipse cx="549.9" cy="296.1" rx="5.4" ry="3.3" fill="#d3a3c4" transform="rotate(46 549.9 296.1)"/>
<ellipse cx="543.6" cy="293.4" rx="5.5" ry="3.3" fill="#b579a4" transform="rotate(-56 543.6 293.4)"/>
<ellipse cx="533.9" cy="302.6" rx="3.5" ry="2.1" fill="#b579a4" transform="rotate(76 533.9 302.6)"/>
<ellipse cx="532.3" cy="294.4" rx="4.8" ry="2.9" fill="#b579a4" transform="rotate(-73 532.3 294.4)"/>
<ellipse cx="545.7" cy="293.2" rx="4.7" ry="2.8" fill="#8e5a78" transform="rotate(-21 545.7 293.2)"/>
<ellipse cx="548.7" cy="293.2" rx="5.4" ry="3.2" fill="#d3a3c4" transform="rotate(66 548.7 293.2)"/>
<ellipse cx="545.1" cy="323.3" rx="3.4" ry="2.0" fill="#b579a4" transform="rotate(-74 545.1 323.3)"/>
<ellipse cx="559.7" cy="329.6" rx="3.8" ry="2.3" fill="#b579a4" transform="rotate(-64 559.7 329.6)"/>
<ellipse cx="559.0" cy="329.9" rx="3.8" ry="2.3" fill="#a9688f" transform="rotate(-26 559.0 329.9)"/>
<ellipse cx="543.4" cy="324.1" rx="3.8" ry="2.3" fill="#a9688f" transform="rotate(34 543.4 324.1)"/>
<ellipse cx="561.5" cy="331.7" rx="4.7" ry="2.8" fill="#a9688f" transform="rotate(-3 561.5 331.7)"/>
<ellipse cx="555.5" cy="320.7" rx="4.2" ry="2.5" fill="#b579a4" transform="rotate(-10 555.5 320.7)"/>
<ellipse cx="584.7" cy="327.8" rx="3.8" ry="1.5" fill="#b579a4" transform="rotate(-45 584.7 327.8)"/>
<ellipse cx="588.1" cy="326.1" rx="3.6" ry="1.4" fill="#a9688f" transform="rotate(3 588.1 326.1)"/>
<ellipse cx="590.9" cy="328.9" rx="2.7" ry="1.1" fill="#d3a3c4" transform="rotate(-1 590.9 328.9)"/>
<ellipse cx="564.9" cy="291.3" rx="8.7" ry="2.6" fill="#7e4a52" transform="rotate(14 564.9 291.3)"/>
<ellipse cx="557.5" cy="294.2" rx="5.4" ry="1.6" fill="#5e3340" transform="rotate(-45 557.5 294.2)"/>
<ellipse cx="561.6" cy="274.4" rx="7.1" ry="2.1" fill="#7e4a52" transform="rotate(-67 561.6 274.4)"/>
<ellipse cx="566.4" cy="286.7" rx="5.8" ry="1.7" fill="#3a2228" transform="rotate(-15 566.4 286.7)"/>
<ellipse cx="568.2" cy="289.4" rx="6.1" ry="1.8" fill="#6a3a3a" transform="rotate(23 568.2 289.4)"/>
<ellipse cx="539.6" cy="363.3" rx="23.7" ry="11.9" fill="#251519"/>
</g>
<rect x="0" y="321.9" width="224.4" height="51.5" fill="#222525" opacity="0.8"/>
<rect x="7.5" y="352.8" width="5.8" height="9.5" fill="#fff"/>
<rect x="18.3" y="345.3" width="5.8" height="16.9" fill="#fff"/>
<rect x="29.1" y="338.5" width="5.8" height="23.7" fill="#fff"/>
<rect x="40.0" y="331.1" width="5.8" height="31.2" fill="#fff"/>
<text x="58.3" y="358.9" font-family="'Liberation Sans', sans-serif" font-size="32.5" fill="#fff" textLength="154.5" lengthAdjust="spacingAndGlyphs">Xiaolin HU</text>
</g>
</svg>
<svg id="timer" width="140" height="140" viewBox="0 0 140 140">
<defs><linearGradient id="tg" x1="0" y1="1" x2="1" y2="0"><stop offset="0" stop-color="#49a6fd"/><stop offset="0.5" stop-color="#3387fb"/><stop offset="1" stop-color="#1d6af7"/></linearGradient>
<clipPath id="tc"><circle cx="70" cy="70" r="59.5"/></clipPath></defs>
<circle cx="70" cy="70" r="67.3" fill="#f4f7fd"/>
<circle cx="70" cy="70" r="59.5" fill="url(#tg)"/>
<path clip-path="url(#tc)" d="M0 100 Q 20 96 45 86 Q 70 78 95 83 Q 118 88 140 96 L140 140 L0 140 Z" fill="#6fc4ff"/>
<path d="M78 26.5 Q 83 27.5 86 29" fill="none" stroke="#cfe3ff" stroke-width="2.2" stroke-linecap="round"/>
<path d="M90 31 Q 99 35 104 43" fill="none" stroke="#cfe3ff" stroke-width="2.2" stroke-linecap="round"/>
<text x="68.9" y="80.6" font-family="'Liberation Sans', sans-serif" font-size="34.5" fill="#fff" text-anchor="middle" textLength="86" lengthAdjust="spacingAndGlyphs">22:14</text>
</svg>
</body>
</html>
